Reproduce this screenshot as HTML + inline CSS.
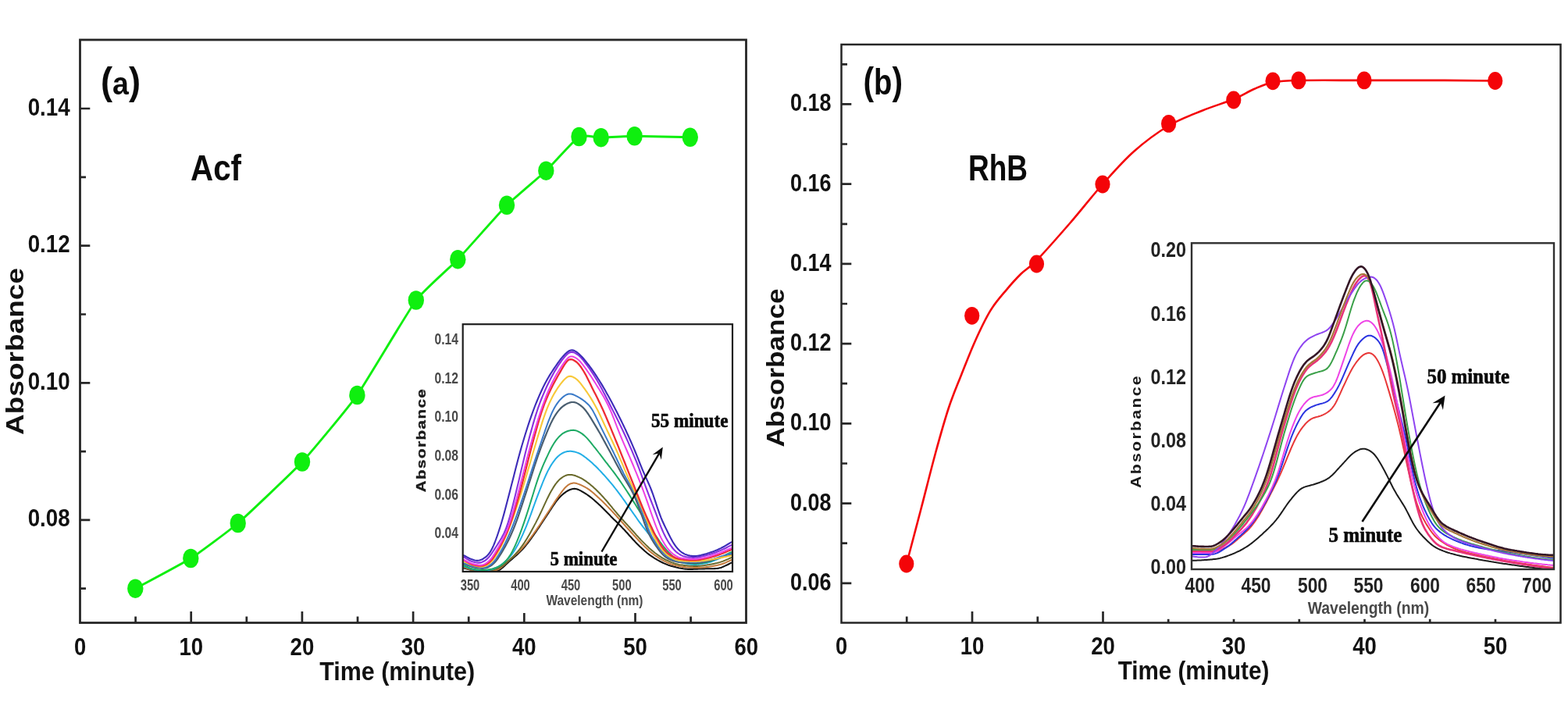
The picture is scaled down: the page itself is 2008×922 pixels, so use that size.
<!DOCTYPE html>
<html lang="en">
<head>
<meta charset="utf-8">
<title>Absorbance vs time: Acf and RhB</title>
<style>
html,body{margin:0;padding:0;background:#fff;}
body{width:2008px;height:922px;overflow:hidden;}
svg{display:block;}
</style>
</head>
<body>
<svg width="2008" height="922" viewBox="0 0 2008 922">
<rect width="2008" height="922" fill="#ffffff"/>
<g>
<rect x="102.5" y="51" width="853" height="746.5" fill="none" stroke="#262626" stroke-width="2.8"/>
<path d="M244.7 797.5 v-14.5 M386.9 797.5 v-14.5 M529.1 797.5 v-14.5 M671.3 797.5 v-14.5 M813.5 797.5 v-14.5 M173.6 797.5 v-8 M315.8 797.5 v-8 M458 797.5 v-8 M600.2 797.5 v-8 M742.4 797.5 v-8 M884.6 797.5 v-8 M102.5 139 h12.8 M102.5 314.6 h12.8 M102.5 490.3 h12.8 M102.5 665.9 h12.8 M102.5 226.8 h7.5 M102.5 402.5 h7.5 M102.5 578.1 h7.5 M102.5 753.7 h7.5 " stroke="#262626" stroke-width="2.7" fill="none"/>
<rect x="1077.5" y="57" width="921" height="740.5" fill="none" stroke="#262626" stroke-width="2.5"/>
<path d="M1245 797.5 v-14.5 M1412.5 797.5 v-14.5 M1580 797.5 v-14.5 M1747.5 797.5 v-14.5 M1915 797.5 v-14.5 M1161.2 797.5 v-8 M1328.8 797.5 v-8 M1496.2 797.5 v-8 M1663.8 797.5 v-8 M1831.2 797.5 v-8 M1077.5 133.4 h12.8 M1077.5 235.6 h12.8 M1077.5 337.9 h12.8 M1077.5 440.1 h12.8 M1077.5 542.4 h12.8 M1077.5 644.6 h12.8 M1077.5 746.8 h12.8 M1077.5 82.3 h7.5 M1077.5 184.5 h7.5 M1077.5 286.8 h7.5 M1077.5 389 h7.5 M1077.5 491.2 h7.5 M1077.5 593.5 h7.5 M1077.5 695.7 h7.5 " stroke="#262626" stroke-width="2.7" fill="none"/>
<text x="89.7" y="147.5" font-family="'Liberation Sans', Arial, sans-serif" font-size="30.5" font-weight="bold" text-anchor="end" fill="#111" textLength="54" lengthAdjust="spacingAndGlyphs">0.14</text>
<text x="89.7" y="323.1" font-family="'Liberation Sans', Arial, sans-serif" font-size="30.5" font-weight="bold" text-anchor="end" fill="#111" textLength="54" lengthAdjust="spacingAndGlyphs">0.12</text>
<text x="89.7" y="498.8" font-family="'Liberation Sans', Arial, sans-serif" font-size="30.5" font-weight="bold" text-anchor="end" fill="#111" textLength="54" lengthAdjust="spacingAndGlyphs">0.10</text>
<text x="89.7" y="674.4" font-family="'Liberation Sans', Arial, sans-serif" font-size="30.5" font-weight="bold" text-anchor="end" fill="#111" textLength="54" lengthAdjust="spacingAndGlyphs">0.08</text>
<text x="102.5" y="839.3" font-family="'Liberation Sans', Arial, sans-serif" font-size="30.5" font-weight="bold" text-anchor="middle" fill="#111" textLength="15.2" lengthAdjust="spacingAndGlyphs">0</text>
<text x="244.7" y="839.3" font-family="'Liberation Sans', Arial, sans-serif" font-size="30.5" font-weight="bold" text-anchor="middle" fill="#111" textLength="30.6" lengthAdjust="spacingAndGlyphs">10</text>
<text x="386.9" y="839.3" font-family="'Liberation Sans', Arial, sans-serif" font-size="30.5" font-weight="bold" text-anchor="middle" fill="#111" textLength="30.6" lengthAdjust="spacingAndGlyphs">20</text>
<text x="529.1" y="839.3" font-family="'Liberation Sans', Arial, sans-serif" font-size="30.5" font-weight="bold" text-anchor="middle" fill="#111" textLength="30.6" lengthAdjust="spacingAndGlyphs">30</text>
<text x="671.3" y="839.3" font-family="'Liberation Sans', Arial, sans-serif" font-size="30.5" font-weight="bold" text-anchor="middle" fill="#111" textLength="30.6" lengthAdjust="spacingAndGlyphs">40</text>
<text x="813.5" y="839.3" font-family="'Liberation Sans', Arial, sans-serif" font-size="30.5" font-weight="bold" text-anchor="middle" fill="#111" textLength="30.6" lengthAdjust="spacingAndGlyphs">50</text>
<text x="955.7" y="839.3" font-family="'Liberation Sans', Arial, sans-serif" font-size="30.5" font-weight="bold" text-anchor="middle" fill="#111" textLength="30.6" lengthAdjust="spacingAndGlyphs">60</text>
<text x="1064.4" y="142.4" font-family="'Liberation Sans', Arial, sans-serif" font-size="30.5" font-weight="bold" text-anchor="end" fill="#111" textLength="52.5" lengthAdjust="spacingAndGlyphs">0.18</text>
<text x="1064.4" y="244.6" font-family="'Liberation Sans', Arial, sans-serif" font-size="30.5" font-weight="bold" text-anchor="end" fill="#111" textLength="52.5" lengthAdjust="spacingAndGlyphs">0.16</text>
<text x="1064.4" y="346.9" font-family="'Liberation Sans', Arial, sans-serif" font-size="30.5" font-weight="bold" text-anchor="end" fill="#111" textLength="52.5" lengthAdjust="spacingAndGlyphs">0.14</text>
<text x="1064.4" y="449.1" font-family="'Liberation Sans', Arial, sans-serif" font-size="30.5" font-weight="bold" text-anchor="end" fill="#111" textLength="52.5" lengthAdjust="spacingAndGlyphs">0.12</text>
<text x="1064.4" y="551.4" font-family="'Liberation Sans', Arial, sans-serif" font-size="30.5" font-weight="bold" text-anchor="end" fill="#111" textLength="52.5" lengthAdjust="spacingAndGlyphs">0.10</text>
<text x="1064.4" y="653.6" font-family="'Liberation Sans', Arial, sans-serif" font-size="30.5" font-weight="bold" text-anchor="end" fill="#111" textLength="52.5" lengthAdjust="spacingAndGlyphs">0.08</text>
<text x="1064.4" y="755.8" font-family="'Liberation Sans', Arial, sans-serif" font-size="30.5" font-weight="bold" text-anchor="end" fill="#111" textLength="52.5" lengthAdjust="spacingAndGlyphs">0.06</text>
<text x="1077.5" y="837.6" font-family="'Liberation Sans', Arial, sans-serif" font-size="30.5" font-weight="bold" text-anchor="middle" fill="#111" textLength="15.2" lengthAdjust="spacingAndGlyphs">0</text>
<text x="1245" y="837.6" font-family="'Liberation Sans', Arial, sans-serif" font-size="30.5" font-weight="bold" text-anchor="middle" fill="#111" textLength="30.6" lengthAdjust="spacingAndGlyphs">10</text>
<text x="1412.5" y="837.6" font-family="'Liberation Sans', Arial, sans-serif" font-size="30.5" font-weight="bold" text-anchor="middle" fill="#111" textLength="30.6" lengthAdjust="spacingAndGlyphs">20</text>
<text x="1580" y="837.6" font-family="'Liberation Sans', Arial, sans-serif" font-size="30.5" font-weight="bold" text-anchor="middle" fill="#111" textLength="30.6" lengthAdjust="spacingAndGlyphs">30</text>
<text x="1747.5" y="837.6" font-family="'Liberation Sans', Arial, sans-serif" font-size="30.5" font-weight="bold" text-anchor="middle" fill="#111" textLength="30.6" lengthAdjust="spacingAndGlyphs">40</text>
<text x="1915" y="837.6" font-family="'Liberation Sans', Arial, sans-serif" font-size="30.5" font-weight="bold" text-anchor="middle" fill="#111" textLength="30.6" lengthAdjust="spacingAndGlyphs">50</text>
<text x="508.7" y="870.7" font-family="'Liberation Sans', Arial, sans-serif" font-size="32.5" font-weight="bold" text-anchor="middle" fill="#111" textLength="199" lengthAdjust="spacingAndGlyphs">Time (minute)</text>
<text x="1528.5" y="870.2" font-family="'Liberation Sans', Arial, sans-serif" font-size="32.5" font-weight="bold" text-anchor="middle" fill="#111" textLength="193.5" lengthAdjust="spacingAndGlyphs">Time (minute)</text>
<text x="0" y="0" font-family="'Liberation Sans', Arial, sans-serif" font-size="31" font-weight="bold" text-anchor="middle" fill="#111" textLength="214" lengthAdjust="spacingAndGlyphs" transform="translate(29.8 450) rotate(-90)">Absorbance</text>
<text x="0" y="0" font-family="'Liberation Sans', Arial, sans-serif" font-size="31" font-weight="bold" text-anchor="middle" fill="#111" textLength="203" lengthAdjust="spacingAndGlyphs" transform="translate(1003.5 471) rotate(-90)">Absorbance</text>
<text x="129" y="120.5" font-family="'Liberation Sans', Arial, sans-serif" font-weight="bold" fill="#0a0a0a" textLength="51" lengthAdjust="spacingAndGlyphs"><tspan font-size="50">(</tspan><tspan font-size="41.5">a</tspan><tspan font-size="50">)</tspan></text>
<text x="1105.5" y="120.8" font-family="'Liberation Sans', Arial, sans-serif" font-weight="bold" fill="#0a0a0a" textLength="50.5" lengthAdjust="spacingAndGlyphs"><tspan font-size="50">(</tspan><tspan font-size="47">b</tspan><tspan font-size="50">)</tspan></text>
<text x="244" y="231.2" font-family="'Liberation Sans', Arial, sans-serif" font-size="47" font-weight="bold" text-anchor="start" fill="#0a0a0a" textLength="65" lengthAdjust="spacingAndGlyphs">Acf</text>
<text x="1240" y="231.2" font-family="'Liberation Sans', Arial, sans-serif" font-size="47" font-weight="bold" text-anchor="start" fill="#0a0a0a" textLength="76" lengthAdjust="spacingAndGlyphs">RhB</text>
<path d="M173.3 753.7 C178.5 750.9 234.7 721.1 244.3 715 C253.9 708.9 294.2 679.1 304.7 670 C315.2 660.9 375.8 603.5 387 591.5 C398.2 579.5 446.7 521.2 457.4 506 C468.1 490.8 523.3 397.2 532.8 384.5 C542.3 371.8 577.8 341.1 586.3 332.2 C594.8 323.3 640.7 271.1 649 262.8 C657.3 254.5 692.5 225.1 699.3 218.7 C706.1 212.3 736.3 178.1 741.5 175 C746.7 171.9 764.5 176.3 769.7 176.2 C774.9 176.1 804.2 174.3 812.6 174.3 C821 174.3 878.6 175.7 883.8 175.8" fill="none" stroke="#0fef0f" stroke-width="2.9" stroke-linejoin="round"/>
<ellipse cx="173.3" cy="753.7" rx="10.2" ry="12.2" fill="#0fef0f"/>
<ellipse cx="244.3" cy="715" rx="10.2" ry="12.2" fill="#0fef0f"/>
<ellipse cx="304.7" cy="670" rx="10.2" ry="12.2" fill="#0fef0f"/>
<ellipse cx="387" cy="591.5" rx="10.2" ry="12.2" fill="#0fef0f"/>
<ellipse cx="457.4" cy="506" rx="10.2" ry="12.2" fill="#0fef0f"/>
<ellipse cx="532.8" cy="384.5" rx="10.2" ry="12.2" fill="#0fef0f"/>
<ellipse cx="586.3" cy="332.2" rx="10.2" ry="12.2" fill="#0fef0f"/>
<ellipse cx="649" cy="262.8" rx="10.2" ry="12.2" fill="#0fef0f"/>
<ellipse cx="699.3" cy="218.7" rx="10.2" ry="12.2" fill="#0fef0f"/>
<ellipse cx="741.5" cy="175" rx="10.2" ry="12.2" fill="#0fef0f"/>
<ellipse cx="769.7" cy="176.2" rx="10.2" ry="12.2" fill="#0fef0f"/>
<ellipse cx="812.6" cy="174.3" rx="10.2" ry="12.2" fill="#0fef0f"/>
<ellipse cx="883.8" cy="175.8" rx="10.2" ry="12.2" fill="#0fef0f"/>
<path d="M1161.5 720 C1164.4 708.9 1172.8 677.2 1179 653.5 C1185.2 629.8 1192.6 599.9 1198.6 578 C1204.6 556.1 1209.6 538.4 1215 522 C1220.4 505.6 1225.6 493.9 1231.2 479.7 C1236.9 465.5 1242.6 450.4 1248.8 436.7 C1255 423 1261.9 408.4 1268.4 397.7 C1274.9 387 1281.4 380.1 1287.9 372.3 C1294.4 364.5 1300.8 357.3 1307.4 350.8 C1314 344.3 1317.1 344.3 1327.5 333.5 C1337.9 322.7 1355.9 302.2 1370 286 C1384.1 269.8 1398.3 251.3 1412 236 C1425.7 220.7 1437.9 206.5 1452 194 C1466.1 181.5 1481.9 169.8 1496.6 161 C1511.3 152.2 1526.1 147.2 1540 141.5 C1553.9 135.8 1568.8 131.6 1579.8 127 C1590.8 122.4 1597.6 117.6 1606 114 C1614.4 110.4 1620.5 107.3 1630 105.5 C1639.5 103.7 1643.5 103.4 1663 103 C1682.5 102.6 1715.8 102.9 1747 102.9 C1778.2 102.9 1822 102.8 1850 102.9 C1878 103 1903.9 103.4 1914.7 103.5" fill="none" stroke="#f40408" stroke-width="2.6" stroke-linejoin="round"/>
<ellipse cx="1160.8" cy="722" rx="9.6" ry="11.4" fill="#f40408"/>
<ellipse cx="1244.7" cy="404.3" rx="9.6" ry="11.4" fill="#f40408"/>
<ellipse cx="1327.5" cy="338" rx="9.6" ry="11.4" fill="#f40408"/>
<ellipse cx="1412" cy="236" rx="9.6" ry="11.4" fill="#f40408"/>
<ellipse cx="1496.6" cy="158.4" rx="9.6" ry="11.4" fill="#f40408"/>
<ellipse cx="1579.8" cy="128" rx="9.6" ry="11.4" fill="#f40408"/>
<ellipse cx="1630" cy="103.8" rx="9.6" ry="11.4" fill="#f40408"/>
<ellipse cx="1663" cy="102.9" rx="9.6" ry="11.4" fill="#f40408"/>
<ellipse cx="1747" cy="102.9" rx="9.6" ry="11.4" fill="#f40408"/>
<ellipse cx="1914.7" cy="103.5" rx="9.6" ry="11.4" fill="#f40408"/>
<rect x="540" y="404" width="406" height="381" fill="#ffffff"/>
<clipPath id="ca"><rect x="592.7" y="415.2" width="345.3" height="316.8"/></clipPath>
<g clip-path="url(#ca)" fill="none" stroke-linejoin="round">
<path d="M593 727.4 L594.5 727.7 L596 728 L597.5 728.4 L599 728.8 L600.5 729.2 L602 729.6 L603.5 730 L605 730.3 L606.5 730.6 L608 730.9 L609.5 731.1 L611 731.3 L612.5 731.5 L614 731.7 L615.5 731.8 L617 731.9 L618.5 732.1 L620 732.2 L621.5 732.3 L623 732.3 L624.5 732.4 L626 732.4 L627.5 732.4 L629 732.4 L630.5 732.3 L632 732.1 L633.5 731.9 L635 731.6 L636.5 731.2 L638 730.6 L639.5 729.9 L641 729 L642.5 727.8 L644 726.6 L645.5 725.2 L647 723.8 L648.5 722.3 L650 720.9 L651.5 719.5 L653 718.2 L654.5 716.9 L656 715.6 L657.5 714.3 L659 713 L660.5 711.7 L662 710.4 L663.5 709 L665 707.6 L666.5 706.1 L668 704.6 L669.5 703 L671 701.3 L672.5 699.5 L674 697.7 L675.5 695.8 L677 693.8 L678.5 691.8 L680 689.8 L681.5 687.7 L683 685.6 L684.5 683.5 L686 681.4 L687.5 679.2 L689 677 L690.5 674.8 L692 672.5 L693.5 670.2 L695 667.9 L696.5 665.7 L698 663.4 L699.5 661.1 L701 658.9 L702.5 656.6 L704 654.3 L705.5 652.1 L707 649.8 L708.5 647.5 L710 645.3 L711.5 643.2 L713 641.2 L714.5 639.3 L716 637.5 L717.5 636 L719 634.5 L720.5 633.2 L722 631.9 L723.5 630.8 L725 629.7 L726.5 628.8 L728 628 L729.5 627.3 L731 626.7 L732.5 626.3 L734 626 L735.5 625.9 L737 626 L738.5 626.3 L740 626.8 L741.5 627.4 L743 628.1 L744.5 628.9 L746 629.8 L747.5 630.7 L749 631.6 L750.5 632.5 L752 633.5 L753.5 634.6 L755 635.7 L756.5 636.8 L758 638 L759.5 639.3 L761 640.5 L762.5 641.9 L764 643.2 L765.5 644.5 L767 645.9 L768.5 647.3 L770 648.7 L771.5 650.2 L773 651.7 L774.5 653.2 L776 654.7 L777.5 656.3 L779 657.8 L780.5 659.3 L782 660.9 L783.5 662.4 L785 663.9 L786.5 665.4 L788 666.8 L789.5 668.3 L791 669.8 L792.5 671.3 L794 672.8 L795.5 674.3 L797 675.9 L798.5 677.4 L800 679 L801.5 680.7 L803 682.3 L804.5 684 L806 685.7 L807.5 687.3 L809 689 L810.5 690.7 L812 692.3 L813.5 693.9 L815 695.4 L816.5 696.9 L818 698.4 L819.5 699.9 L821 701.3 L822.5 702.7 L824 704.1 L825.5 705.5 L827 706.7 L828.5 708 L830 709.2 L831.5 710.3 L833 711.4 L834.5 712.4 L836 713.4 L837.5 714.4 L839 715.3 L840.5 716.2 L842 717.1 L843.5 717.9 L845 718.7 L846.5 719.5 L848 720.2 L849.5 721 L851 721.6 L852.5 722.3 L854 722.9 L855.5 723.5 L857 724 L858.5 724.5 L860 724.9 L861.5 725.3 L863 725.7 L864.5 726.1 L866 726.5 L867.5 726.8 L869 727.2 L870.5 727.5 L872 727.8 L873.5 728 L875 728.3 L876.5 728.5 L878 728.6 L879.5 728.8 L881 728.9 L882.5 728.9 L884 728.9 L885.5 728.9 L887 728.9 L888.5 728.8 L890 728.7 L891.5 728.7 L893 728.6 L894.5 728.5 L896 728.5 L897.5 728.5 L899 728.4 L900.5 728.4 L902 728.4 L903.5 728.3 L905 728.3 L906.5 728.3 L908 728.3 L909.5 728.3 L911 728.2 L912.5 728.2 L914 728.2 L915.5 728.1 L917 728 L918.5 727.9 L920 727.7 L921.5 727.3 L923 726.9 L924.5 726.4 L926 725.8 L927.5 725.1 L929 724.4 L930.5 723.7 L932 723 L933.5 722.2 L935 721.4 L936.5 720.8 L938 720.2" stroke="#141414" stroke-width="2.1"/>
<path d="M593 726.5 L594.5 726.9 L596 727.3 L597.5 727.8 L599 728.4 L600.5 728.9 L602 729.3 L603.5 729.8 L605 730.1 L606.5 730.4 L608 730.7 L609.5 730.9 L611 731 L612.5 731.1 L614 731.2 L615.5 731.2 L617 731.3 L618.5 731.3 L620 731.4 L621.5 731.4 L623 731.4 L624.5 731.5 L626 731.4 L627.5 731.4 L629 731.3 L630.5 731.1 L632 730.9 L633.5 730.6 L635 730.2 L636.5 729.6 L638 729 L639.5 728.2 L641 727.2 L642.5 726.1 L644 724.8 L645.5 723.5 L647 722.1 L648.5 720.7 L650 719.3 L651.5 717.9 L653 716.6 L654.5 715.3 L656 714 L657.5 712.7 L659 711.4 L660.5 710.1 L662 708.8 L663.5 707.4 L665 706 L666.5 704.5 L668 703 L669.5 701.4 L671 699.7 L672.5 697.9 L674 696.1 L675.5 694.2 L677 692.2 L678.5 690.2 L680 688.2 L681.5 686.1 L683 684 L684.5 681.9 L686 679.8 L687.5 677.6 L689 675.4 L690.5 673.2 L692 671 L693.5 668.7 L695 666.4 L696.5 664.2 L698 661.9 L699.5 659.6 L701 657.3 L702.5 655 L704 652.7 L705.5 650.4 L707 648 L708.5 645.7 L710 643.4 L711.5 641.1 L713 638.9 L714.5 636.7 L716 634.6 L717.5 632.5 L719 630.4 L720.5 628.4 L722 626.5 L723.5 624.7 L725 623.2 L726.5 621.9 L728 620.8 L729.5 619.9 L731 619.3 L732.5 618.9 L734 618.6 L735.5 618.6 L737 618.8 L738.5 619.1 L740 619.6 L741.5 620.1 L743 620.7 L744.5 621.4 L746 622.1 L747.5 622.9 L749 623.6 L750.5 624.5 L752 625.4 L753.5 626.4 L755 627.4 L756.5 628.6 L758 629.8 L759.5 631 L761 632.3 L762.5 633.7 L764 635 L765.5 636.4 L767 637.8 L768.5 639.2 L770 640.6 L771.5 642 L773 643.5 L774.5 645 L776 646.5 L777.5 648.1 L779 649.6 L780.5 651.2 L782 652.8 L783.5 654.4 L785 656 L786.5 657.6 L788 659.2 L789.5 660.9 L791 662.5 L792.5 664.2 L794 665.9 L795.5 667.5 L797 669.2 L798.5 670.8 L800 672.5 L801.5 674.2 L803 675.8 L804.5 677.5 L806 679.2 L807.5 680.8 L809 682.5 L810.5 684.1 L812 685.8 L813.5 687.4 L815 689 L816.5 690.6 L818 692.2 L819.5 693.7 L821 695.3 L822.5 696.9 L824 698.4 L825.5 699.9 L827 701.3 L828.5 702.7 L830 704.1 L831.5 705.4 L833 706.7 L834.5 707.9 L836 709 L837.5 710.2 L839 711.3 L840.5 712.3 L842 713.4 L843.5 714.3 L845 715.3 L846.5 716.2 L848 717 L849.5 717.9 L851 718.7 L852.5 719.4 L854 720.2 L855.5 720.8 L857 721.4 L858.5 722 L860 722.5 L861.5 723 L863 723.4 L864.5 723.8 L866 724.2 L867.5 724.5 L869 724.8 L870.5 725.2 L872 725.4 L873.5 725.7 L875 725.9 L876.5 726.1 L878 726.3 L879.5 726.4 L881 726.5 L882.5 726.6 L884 726.7 L885.5 726.8 L887 726.8 L888.5 726.9 L890 726.9 L891.5 727 L893 727 L894.5 726.9 L896 726.9 L897.5 726.8 L899 726.7 L900.5 726.6 L902 726.4 L903.5 726.3 L905 726.1 L906.5 725.9 L908 725.7 L909.5 725.5 L911 725.3 L912.5 725.1 L914 724.8 L915.5 724.5 L917 724.2 L918.5 723.9 L920 723.5 L921.5 723.1 L923 722.7 L924.5 722.3 L926 721.7 L927.5 721.2 L929 720.6 L930.5 719.9 L932 719.2 L933.5 718.5 L935 717.8 L936.5 717.2 L938 716.7" stroke="#c47a3c" stroke-width="2.0"/>
<path d="M593 725.6 L594.5 726 L596 726.5 L597.5 727.1 L599 727.8 L600.5 728.3 L602 728.9 L603.5 729.3 L605 729.7 L606.5 730 L608 730.3 L609.5 730.4 L611 730.6 L612.5 730.7 L614 730.7 L615.5 730.8 L617 730.9 L618.5 730.9 L620 730.9 L621.5 730.9 L623 730.9 L624.5 730.9 L626 730.7 L627.5 730.5 L629 730.3 L630.5 729.9 L632 729.6 L633.5 729.1 L635 728.6 L636.5 728.1 L638 727.4 L639.5 726.7 L641 725.8 L642.5 724.9 L644 723.9 L645.5 722.8 L647 721.6 L648.5 720.4 L650 719.1 L651.5 717.8 L653 716.5 L654.5 715.1 L656 713.7 L657.5 712.2 L659 710.6 L660.5 709 L662 707.3 L663.5 705.6 L665 703.8 L666.5 701.9 L668 699.9 L669.5 697.8 L671 695.7 L672.5 693.4 L674 691 L675.5 688.6 L677 686 L678.5 683.4 L680 680.7 L681.5 678 L683 675.2 L684.5 672.4 L686 669.6 L687.5 666.6 L689 663.7 L690.5 660.6 L692 657.5 L693.5 654.3 L695 651.1 L696.5 647.8 L698 644.6 L699.5 641.4 L701 638.2 L702.5 635.2 L704 632.3 L705.5 629.5 L707 626.9 L708.5 624.4 L710 622.1 L711.5 619.9 L713 618 L714.5 616.2 L716 614.6 L717.5 613.3 L719 612.1 L720.5 611 L722 610.1 L723.5 609.4 L725 608.7 L726.5 608.3 L728 608 L729.5 607.9 L731 607.9 L732.5 608.1 L734 608.4 L735.5 608.8 L737 609.3 L738.5 609.9 L740 610.5 L741.5 611.1 L743 611.8 L744.5 612.5 L746 613.4 L747.5 614.3 L749 615.3 L750.5 616.4 L752 617.5 L753.5 618.6 L755 619.8 L756.5 621.1 L758 622.3 L759.5 623.6 L761 624.9 L762.5 626.3 L764 627.7 L765.5 629.2 L767 630.7 L768.5 632.3 L770 633.9 L771.5 635.5 L773 637.1 L774.5 638.8 L776 640.5 L777.5 642.2 L779 644 L780.5 645.8 L782 647.6 L783.5 649.4 L785 651.3 L786.5 653.1 L788 654.9 L789.5 656.7 L791 658.5 L792.5 660.2 L794 661.9 L795.5 663.5 L797 665.2 L798.5 666.8 L800 668.5 L801.5 670.1 L803 671.7 L804.5 673.4 L806 675 L807.5 676.7 L809 678.3 L810.5 680 L812 681.7 L813.5 683.4 L815 685.1 L816.5 686.7 L818 688.4 L819.5 690 L821 691.6 L822.5 693.1 L824 694.6 L825.5 696.1 L827 697.6 L828.5 699.1 L830 700.5 L831.5 701.9 L833 703.2 L834.5 704.6 L836 705.8 L837.5 707 L839 708.2 L840.5 709.3 L842 710.4 L843.5 711.4 L845 712.4 L846.5 713.4 L848 714.3 L849.5 715.2 L851 716 L852.5 716.8 L854 717.5 L855.5 718.2 L857 718.9 L858.5 719.5 L860 720.1 L861.5 720.6 L863 721.2 L864.5 721.7 L866 722.1 L867.5 722.5 L869 722.9 L870.5 723.2 L872 723.4 L873.5 723.6 L875 723.8 L876.5 724 L878 724.2 L879.5 724.3 L881 724.4 L882.5 724.6 L884 724.7 L885.5 724.8 L887 724.8 L888.5 724.9 L890 724.9 L891.5 724.9 L893 724.9 L894.5 724.8 L896 724.7 L897.5 724.6 L899 724.4 L900.5 724.2 L902 724 L903.5 723.7 L905 723.5 L906.5 723.2 L908 723 L909.5 722.7 L911 722.5 L912.5 722.2 L914 721.9 L915.5 721.6 L917 721.2 L918.5 720.9 L920 720.5 L921.5 720.1 L923 719.6 L924.5 719.1 L926 718.6 L927.5 718 L929 717.4 L930.5 716.7 L932 716.1 L933.5 715.4 L935 714.7 L936.5 714.1 L938 713.6" stroke="#6a6a2c" stroke-width="2.0"/>
<path d="M593 724.6 L594.5 725 L596 725.6 L597.5 726.2 L599 726.8 L600.5 727.4 L602 727.9 L603.5 728.4 L605 728.8 L606.5 729.1 L608 729.4 L609.5 729.6 L611 729.8 L612.5 730 L614 730.1 L615.5 730.2 L617 730.3 L618.5 730.4 L620 730.4 L621.5 730.4 L623 730.3 L624.5 730.2 L626 729.9 L627.5 729.6 L629 729.2 L630.5 728.8 L632 728.3 L633.5 727.7 L635 727.1 L636.5 726.4 L638 725.7 L639.5 724.9 L641 723.9 L642.5 722.8 L644 721.7 L645.5 720.4 L647 719.1 L648.5 717.6 L650 716.1 L651.5 714.6 L653 712.9 L654.5 711.1 L656 709.1 L657.5 707 L659 704.7 L660.5 702.3 L662 699.6 L663.5 696.9 L665 693.9 L666.5 690.8 L668 687.6 L669.5 684.3 L671 680.9 L672.5 677.4 L674 673.8 L675.5 670 L677 666.2 L678.5 662.2 L680 658.1 L681.5 653.9 L683 649.7 L684.5 645.5 L686 641.4 L687.5 637.4 L689 633.4 L690.5 629.5 L692 625.6 L693.5 621.8 L695 618 L696.5 614.4 L698 610.8 L699.5 607.5 L701 604.3 L702.5 601.4 L704 598.7 L705.5 596.1 L707 593.8 L708.5 591.6 L710 589.6 L711.5 587.7 L713 586 L714.5 584.5 L716 583.2 L717.5 582 L719 581.1 L720.5 580.2 L722 579.5 L723.5 578.9 L725 578.4 L726.5 578.1 L728 577.9 L729.5 577.8 L731 577.8 L732.5 578 L734 578.2 L735.5 578.5 L737 578.9 L738.5 579.4 L740 579.9 L741.5 580.5 L743 581.2 L744.5 582.1 L746 583 L747.5 584.1 L749 585.2 L750.5 586.3 L752 587.6 L753.5 588.8 L755 590 L756.5 591.3 L758 592.6 L759.5 594 L761 595.4 L762.5 596.8 L764 598.3 L765.5 599.8 L767 601.4 L768.5 602.9 L770 604.5 L771.5 606.2 L773 607.8 L774.5 609.4 L776 611.1 L777.5 612.8 L779 614.5 L780.5 616.3 L782 618.1 L783.5 619.9 L785 621.7 L786.5 623.6 L788 625.5 L789.5 627.4 L791 629.3 L792.5 631.3 L794 633.3 L795.5 635.4 L797 637.5 L798.5 639.6 L800 641.7 L801.5 643.8 L803 646 L804.5 648.1 L806 650.2 L807.5 652.4 L809 654.5 L810.5 656.6 L812 658.8 L813.5 660.9 L815 663 L816.5 665.2 L818 667.3 L819.5 669.3 L821 671.3 L822.5 673.3 L824 675.3 L825.5 677.2 L827 679.1 L828.5 681 L830 682.8 L831.5 684.6 L833 686.4 L834.5 688.2 L836 689.9 L837.5 691.6 L839 693.3 L840.5 694.9 L842 696.6 L843.5 698.2 L845 699.8 L846.5 701.4 L848 702.9 L849.5 704.4 L851 705.9 L852.5 707.3 L854 708.6 L855.5 709.9 L857 711.1 L858.5 712.3 L860 713.5 L861.5 714.6 L863 715.7 L864.5 716.6 L866 717.5 L867.5 718.3 L869 718.9 L870.5 719.5 L872 720 L873.5 720.4 L875 720.8 L876.5 721.2 L878 721.5 L879.5 721.8 L881 722.1 L882.5 722.3 L884 722.5 L885.5 722.7 L887 722.8 L888.5 722.9 L890 722.9 L891.5 722.9 L893 722.8 L894.5 722.7 L896 722.5 L897.5 722.3 L899 722.1 L900.5 721.8 L902 721.5 L903.5 721.2 L905 720.9 L906.5 720.6 L908 720.1 L909.5 719.7 L911 719.2 L912.5 718.6 L914 718 L915.5 717.4 L917 716.8 L918.5 716.2 L920 715.6 L921.5 714.9 L923 714.3 L924.5 713.6 L926 713 L927.5 712.3 L929 711.6 L930.5 710.8 L932 710.1 L933.5 709.4 L935 708.7 L936.5 708.1 L938 707.6" stroke="#22aee6" stroke-width="2.0"/>
<path d="M593 723.7 L594.5 724.2 L596 724.8 L597.5 725.5 L599 726.2 L600.5 726.9 L602 727.5 L603.5 728 L605 728.4 L606.5 728.8 L608 729 L609.5 729.3 L611 729.4 L612.5 729.6 L614 729.7 L615.5 729.8 L617 729.9 L618.5 729.9 L620 729.9 L621.5 729.8 L623 729.7 L624.5 729.6 L626 729.3 L627.5 729.1 L629 728.7 L630.5 728.4 L632 728 L633.5 727.5 L635 727 L636.5 726.4 L638 725.7 L639.5 724.9 L641 724 L642.5 723 L644 721.8 L645.5 720.4 L647 719 L648.5 717.4 L650 715.6 L651.5 713.6 L653 711.4 L654.5 708.9 L656 706.2 L657.5 703.3 L659 700.1 L660.5 696.8 L662 693.3 L663.5 689.6 L665 685.8 L666.5 681.8 L668 677.8 L669.5 673.6 L671 669.3 L672.5 664.9 L674 660.4 L675.5 655.8 L677 651.1 L678.5 646.3 L680 641.4 L681.5 636.5 L683 631.7 L684.5 626.8 L686 622 L687.5 617.4 L689 612.9 L690.5 608.7 L692 604.6 L693.5 600.8 L695 597.2 L696.5 593.7 L698 590.3 L699.5 587 L701 583.8 L702.5 580.6 L704 577.5 L705.5 574.5 L707 571.8 L708.5 569.2 L710 566.8 L711.5 564.7 L713 562.7 L714.5 560.9 L716 559.2 L717.5 557.7 L719 556.4 L720.5 555.2 L722 554.3 L723.5 553.5 L725 552.8 L726.5 552.3 L728 551.8 L729.5 551.4 L731 551.1 L732.5 550.9 L734 550.8 L735.5 550.9 L737 551.2 L738.5 551.6 L740 552.3 L741.5 553 L743 553.9 L744.5 554.8 L746 555.9 L747.5 557.1 L749 558.4 L750.5 559.9 L752 561.4 L753.5 563.1 L755 564.9 L756.5 566.7 L758 568.6 L759.5 570.5 L761 572.4 L762.5 574.2 L764 576.1 L765.5 578 L767 580 L768.5 581.9 L770 583.9 L771.5 585.9 L773 587.9 L774.5 589.8 L776 591.8 L777.5 593.7 L779 595.7 L780.5 597.6 L782 599.5 L783.5 601.5 L785 603.4 L786.5 605.4 L788 607.4 L789.5 609.5 L791 611.6 L792.5 613.7 L794 615.8 L795.5 618 L797 620.2 L798.5 622.5 L800 624.7 L801.5 627 L803 629.3 L804.5 631.6 L806 633.9 L807.5 636.3 L809 638.6 L810.5 641 L812 643.4 L813.5 645.8 L815 648.2 L816.5 650.6 L818 653 L819.5 655.4 L821 657.8 L822.5 660.2 L824 662.5 L825.5 664.8 L827 667.1 L828.5 669.4 L830 671.7 L831.5 674 L833 676.2 L834.5 678.5 L836 680.7 L837.5 682.8 L839 685 L840.5 687.1 L842 689.2 L843.5 691.4 L845 693.5 L846.5 695.5 L848 697.6 L849.5 699.5 L851 701.4 L852.5 703.2 L854 704.9 L855.5 706.5 L857 708.1 L858.5 709.5 L860 710.9 L861.5 712.3 L863 713.5 L864.5 714.7 L866 715.7 L867.5 716.6 L869 717.3 L870.5 718 L872 718.6 L873.5 719 L875 719.5 L876.5 719.9 L878 720.3 L879.5 720.6 L881 721 L882.5 721.2 L884 721.5 L885.5 721.6 L887 721.8 L888.5 721.9 L890 721.9 L891.5 721.9 L893 721.8 L894.5 721.7 L896 721.5 L897.5 721.3 L899 721.1 L900.5 720.8 L902 720.5 L903.5 720.2 L905 719.9 L906.5 719.6 L908 719.1 L909.5 718.7 L911 718.2 L912.5 717.6 L914 717 L915.5 716.4 L917 715.8 L918.5 715.2 L920 714.6 L921.5 713.9 L923 713.3 L924.5 712.6 L926 712 L927.5 711.3 L929 710.6 L930.5 709.8 L932 709.1 L933.5 708.4 L935 707.7 L936.5 707.1 L938 706.6" stroke="#1eaa64" stroke-width="2.0"/>
<path d="M593 721.6 L594.5 722.1 L596 722.6 L597.5 723.2 L599 723.9 L600.5 724.5 L602 725 L603.5 725.5 L605 725.9 L606.5 726.3 L608 726.6 L609.5 726.9 L611 727.1 L612.5 727.3 L614 727.5 L615.5 727.7 L617 727.8 L618.5 727.8 L620 727.7 L621.5 727.5 L623 727.1 L624.5 726.6 L626 725.9 L627.5 725.1 L629 724.1 L630.5 723 L632 721.7 L633.5 720.3 L635 718.6 L636.5 716.6 L638 714.5 L639.5 712.2 L641 709.9 L642.5 707.4 L644 704.9 L645.5 702.3 L647 699.6 L648.5 696.8 L650 693.9 L651.5 690.9 L653 687.8 L654.5 684.5 L656 681.1 L657.5 677.6 L659 673.9 L660.5 669.9 L662 665.9 L663.5 661.6 L665 657.2 L666.5 652.7 L668 648.2 L669.5 643.6 L671 639 L672.5 634.4 L674 629.8 L675.5 625.1 L677 620.5 L678.5 615.8 L680 611.1 L681.5 606.3 L683 601.6 L684.5 597 L686 592.4 L687.5 587.9 L689 583.5 L690.5 579.3 L692 575.2 L693.5 571.2 L695 567.2 L696.5 563.4 L698 559.5 L699.5 555.8 L701 552.1 L702.5 548.6 L704 545.2 L705.5 541.9 L707 538.9 L708.5 536.1 L710 533.5 L711.5 531.1 L713 528.9 L714.5 526.9 L716 525.1 L717.5 523.4 L719 521.9 L720.5 520.6 L722 519.5 L723.5 518.5 L725 517.6 L726.5 516.8 L728 516.2 L729.5 515.6 L731 515.2 L732.5 515 L734 515 L735.5 515.2 L737 515.5 L738.5 516.1 L740 516.9 L741.5 517.8 L743 518.9 L744.5 520 L746 521.3 L747.5 522.8 L749 524.5 L750.5 526.3 L752 528.4 L753.5 530.5 L755 532.8 L756.5 535.2 L758 537.6 L759.5 540.1 L761 542.6 L762.5 545.1 L764 547.6 L765.5 550.1 L767 552.7 L768.5 555.3 L770 557.9 L771.5 560.6 L773 563.4 L774.5 566.1 L776 568.9 L777.5 571.7 L779 574.5 L780.5 577.3 L782 580.1 L783.5 582.9 L785 585.7 L786.5 588.5 L788 591.4 L789.5 594.2 L791 597 L792.5 599.8 L794 602.6 L795.5 605.4 L797 608.1 L798.5 610.7 L800 613.3 L801.5 615.8 L803 618.2 L804.5 620.6 L806 623.1 L807.5 625.7 L809 628.4 L810.5 631.3 L812 634.5 L813.5 637.9 L815 641.5 L816.5 645.3 L818 649.3 L819.5 653.3 L821 657.5 L822.5 661.7 L824 666 L825.5 670.3 L827 674.3 L828.5 678 L830 681.5 L831.5 684.6 L833 687.5 L834.5 690.2 L836 692.7 L837.5 695.1 L839 697.4 L840.5 699.6 L842 701.7 L843.5 703.8 L845 705.7 L846.5 707.6 L848 709.3 L849.5 710.8 L851 712.2 L852.5 713.3 L854 714.3 L855.5 715.2 L857 716 L858.5 716.7 L860 717.3 L861.5 717.9 L863 718.4 L864.5 718.8 L866 719.2 L867.5 719.5 L869 719.8 L870.5 720 L872 720.1 L873.5 720.3 L875 720.4 L876.5 720.5 L878 720.6 L879.5 720.7 L881 720.8 L882.5 720.8 L884 720.9 L885.5 720.9 L887 720.9 L888.5 720.9 L890 720.9 L891.5 720.9 L893 720.8 L894.5 720.7 L896 720.5 L897.5 720.3 L899 720.1 L900.5 719.8 L902 719.5 L903.5 719.3 L905 719 L906.5 718.6 L908 718.3 L909.5 717.9 L911 717.5 L912.5 717 L914 716.6 L915.5 716.1 L917 715.6 L918.5 715.2 L920 714.7 L921.5 714.2 L923 713.8 L924.5 713.3 L926 712.9 L927.5 712.4 L929 711.9 L930.5 711.4 L932 711 L933.5 710.5 L935 710.1 L936.5 709.7 L938 709.4" stroke="#4a5e70" stroke-width="2.2"/>
<path d="M593 720.6 L594.5 721.1 L596 721.6 L597.5 722.2 L599 722.9 L600.5 723.5 L602 724 L603.5 724.5 L605 724.9 L606.5 725.3 L608 725.6 L609.5 725.9 L611 726.1 L612.5 726.3 L614 726.5 L615.5 726.7 L617 726.8 L618.5 726.8 L620 726.7 L621.5 726.4 L623 726 L624.5 725.3 L626 724.5 L627.5 723.6 L629 722.5 L630.5 721.2 L632 719.7 L633.5 717.9 L635 716 L636.5 713.8 L638 711.5 L639.5 709.1 L641 706.6 L642.5 703.9 L644 701.2 L645.5 698.3 L647 695.4 L648.5 692.3 L650 689 L651.5 685.7 L653 682.2 L654.5 678.7 L656 675 L657.5 671.2 L659 667.2 L660.5 663.2 L662 659 L663.5 654.7 L665 650.4 L666.5 646 L668 641.6 L669.5 637.2 L671 632.7 L672.5 628.2 L674 623.7 L675.5 619.2 L677 614.6 L678.5 609.9 L680 605.3 L681.5 600.6 L683 596 L684.5 591.4 L686 586.9 L687.5 582.4 L689 578 L690.5 573.6 L692 569.2 L693.5 564.8 L695 560.4 L696.5 556 L698 551.6 L699.5 547.3 L701 543.2 L702.5 539.1 L704 535.3 L705.5 531.6 L707 528.2 L708.5 525.1 L710 522.3 L711.5 519.7 L713 517.4 L714.5 515.3 L716 513.4 L717.5 511.7 L719 510.2 L720.5 508.8 L722 507.6 L723.5 506.5 L725 505.6 L726.5 505 L728 504.5 L729.5 504.4 L731 504.5 L732.5 504.8 L734 505.3 L735.5 505.9 L737 506.6 L738.5 507.3 L740 508.1 L741.5 509 L743 509.9 L744.5 510.9 L746 511.9 L747.5 513 L749 514.1 L750.5 515.4 L752 516.7 L753.5 518.2 L755 519.9 L756.5 521.9 L758 524.1 L759.5 526.6 L761 529.4 L762.5 532.3 L764 535.4 L765.5 538.5 L767 541.7 L768.5 544.8 L770 547.9 L771.5 550.9 L773 553.9 L774.5 556.9 L776 559.9 L777.5 562.9 L779 565.9 L780.5 568.9 L782 571.9 L783.5 575 L785 578 L786.5 581.1 L788 584.2 L789.5 587.3 L791 590.5 L792.5 593.7 L794 596.8 L795.5 600 L797 603 L798.5 606.1 L800 609 L801.5 611.8 L803 614.5 L804.5 617.1 L806 619.6 L807.5 622.1 L809 624.7 L810.5 627.4 L812 630.3 L813.5 633.4 L815 636.8 L816.5 640.3 L818 644.1 L819.5 648 L821 652 L822.5 656.1 L824 660.3 L825.5 664.6 L827 668.9 L828.5 673 L830 676.8 L831.5 680.4 L833 683.6 L834.5 686.6 L836 689.4 L837.5 692 L839 694.4 L840.5 696.7 L842 698.8 L843.5 700.9 L845 702.8 L846.5 704.7 L848 706.4 L849.5 708 L851 709.5 L852.5 710.9 L854 712 L855.5 713.1 L857 714 L858.5 714.9 L860 715.6 L861.5 716.4 L863 717 L864.5 717.5 L866 718 L867.5 718.4 L869 718.7 L870.5 718.9 L872 719.1 L873.5 719.3 L875 719.4 L876.5 719.5 L878 719.6 L879.5 719.7 L881 719.8 L882.5 719.8 L884 719.9 L885.5 719.9 L887 719.9 L888.5 719.9 L890 719.9 L891.5 719.9 L893 719.8 L894.5 719.7 L896 719.5 L897.5 719.3 L899 719.1 L900.5 718.8 L902 718.5 L903.5 718.3 L905 718 L906.5 717.6 L908 717.3 L909.5 716.9 L911 716.5 L912.5 716 L914 715.6 L915.5 715.1 L917 714.6 L918.5 714.2 L920 713.7 L921.5 713.2 L923 712.8 L924.5 712.3 L926 711.9 L927.5 711.4 L929 710.9 L930.5 710.4 L932 710 L933.5 709.5 L935 709.1 L936.5 708.7 L938 708.4" stroke="#3a7ac8" stroke-width="2.0"/>
<path d="M593 718.7 L594.5 719.2 L596 719.8 L597.5 720.5 L599 721.3 L600.5 721.9 L602 722.6 L603.5 723.1 L605 723.6 L606.5 724 L608 724.4 L609.5 724.8 L611 725.1 L612.5 725.4 L614 725.6 L615.5 725.7 L617 725.7 L618.5 725.6 L620 725.3 L621.5 724.8 L623 724.1 L624.5 723.2 L626 722.2 L627.5 721 L629 719.6 L630.5 718 L632 716.1 L633.5 714 L635 711.7 L636.5 709.2 L638 706.6 L639.5 703.9 L641 701.1 L642.5 698.1 L644 695 L645.5 691.8 L647 688.5 L648.5 685 L650 681.4 L651.5 677.7 L653 673.9 L654.5 669.9 L656 665.8 L657.5 661.6 L659 657.3 L660.5 652.9 L662 648.4 L663.5 643.8 L665 639.1 L666.5 634.4 L668 629.6 L669.5 624.7 L671 619.8 L672.5 614.7 L674 609.5 L675.5 604.3 L677 599.1 L678.5 593.9 L680 588.7 L681.5 583.5 L683 578.4 L684.5 573.4 L686 568.4 L687.5 563.3 L689 558.3 L690.5 553.4 L692 548.4 L693.5 543.6 L695 538.9 L696.5 534.4 L698 530.1 L699.5 526 L701 522.2 L702.5 518.6 L704 515.2 L705.5 512.1 L707 509.1 L708.5 506.3 L710 503.6 L711.5 501.1 L713 498.7 L714.5 496.4 L716 494.3 L717.5 492.2 L719 490.3 L720.5 488.5 L722 486.8 L723.5 485.3 L725 483.9 L726.5 482.8 L728 482.1 L729.5 481.8 L731 481.9 L732.5 482.2 L734 482.9 L735.5 483.7 L737 484.6 L738.5 485.8 L740 487.1 L741.5 488.7 L743 490.4 L744.5 492.3 L746 494.3 L747.5 496.3 L749 498.4 L750.5 500.6 L752 502.7 L753.5 505 L755 507.3 L756.5 509.6 L758 512.1 L759.5 514.6 L761 517.2 L762.5 519.9 L764 522.7 L765.5 525.6 L767 528.6 L768.5 531.8 L770 535 L771.5 538.2 L773 541.5 L774.5 544.7 L776 547.9 L777.5 551.1 L779 554.3 L780.5 557.5 L782 560.6 L783.5 563.8 L785 567 L786.5 570.2 L788 573.5 L789.5 576.8 L791 580.1 L792.5 583.6 L794 587.1 L795.5 590.6 L797 594.2 L798.5 597.7 L800 601.3 L801.5 604.8 L803 608.3 L804.5 611.7 L806 615 L807.5 618.2 L809 621.4 L810.5 624.6 L812 627.8 L813.5 631 L815 634.3 L816.5 637.7 L818 641.1 L819.5 644.6 L821 648.1 L822.5 651.7 L824 655.3 L825.5 658.9 L827 662.7 L828.5 666.4 L830 670.2 L831.5 673.8 L833 677.4 L834.5 680.8 L836 684 L837.5 687.1 L839 690.1 L840.5 692.9 L842 695.5 L843.5 697.9 L845 700.1 L846.5 702.1 L848 704 L849.5 705.8 L851 707.4 L852.5 708.9 L854 710.2 L855.5 711.4 L857 712.4 L858.5 713.4 L860 714.3 L861.5 715 L863 715.8 L864.5 716.4 L866 716.9 L867.5 717.3 L869 717.7 L870.5 717.9 L872 718.1 L873.5 718.3 L875 718.4 L876.5 718.5 L878 718.6 L879.5 718.7 L881 718.8 L882.5 718.8 L884 718.9 L885.5 718.9 L887 718.9 L888.5 719 L890 718.9 L891.5 718.9 L893 718.8 L894.5 718.7 L896 718.6 L897.5 718.5 L899 718.3 L900.5 718.1 L902 717.9 L903.5 717.7 L905 717.5 L906.5 717.3 L908 717 L909.5 716.8 L911 716.5 L912.5 716.2 L914 716 L915.5 715.7 L917 715.4 L918.5 715.1 L920 714.8 L921.5 714.5 L923 714.2 L924.5 713.9 L926 713.6 L927.5 713.3 L929 713 L930.5 712.7 L932 712.3 L933.5 712 L935 711.7 L936.5 711.5 L938 711.3" stroke="#f8c838" stroke-width="2.1"/>
<path d="M593 716.9 L594.5 717.5 L596 718.3 L597.5 719.2 L599 720.1 L600.5 720.9 L602 721.7 L603.5 722.3 L605 722.8 L606.5 723.3 L608 723.7 L609.5 724.1 L611 724.3 L612.5 724.6 L614 724.7 L615.5 724.7 L617 724.6 L618.5 724.3 L620 723.8 L621.5 723.2 L623 722.4 L624.5 721.5 L626 720.4 L627.5 719.1 L629 717.5 L630.5 715.7 L632 713.7 L633.5 711.4 L635 709 L636.5 706.5 L638 703.9 L639.5 701.3 L641 698.6 L642.5 695.8 L644 692.8 L645.5 689.8 L647 686.6 L648.5 683.2 L650 679.7 L651.5 675.9 L653 672 L654.5 667.7 L656 663.3 L657.5 658.6 L659 653.8 L660.5 648.8 L662 643.7 L663.5 638.5 L665 633.1 L666.5 627.7 L668 622.1 L669.5 616.4 L671 610.5 L672.5 604.6 L674 598.6 L675.5 592.6 L677 586.7 L678.5 580.9 L680 575.2 L681.5 569.5 L683 564 L684.5 558.4 L686 553 L687.5 547.6 L689 542.4 L690.5 537.3 L692 532.4 L693.5 527.7 L695 523.3 L696.5 519.2 L698 515.2 L699.5 511.5 L701 508 L702.5 504.6 L704 501.4 L705.5 498.2 L707 495.2 L708.5 492.3 L710 489.4 L711.5 486.7 L713 484 L714.5 481.3 L716 478.7 L717.5 476.1 L719 473.5 L720.5 470.9 L722 468.4 L723.5 466.1 L725 464 L726.5 462.2 L728 461 L729.5 460.3 L731 460.1 L732.5 460.3 L734 460.9 L735.5 461.7 L737 462.7 L738.5 463.8 L740 465.3 L741.5 466.9 L743 468.8 L744.5 470.8 L746 473.1 L747.5 475.5 L749 478.1 L750.5 480.8 L752 483.7 L753.5 486.7 L755 489.7 L756.5 492.8 L758 495.9 L759.5 498.9 L761 501.9 L762.5 504.8 L764 507.8 L765.5 510.8 L767 513.9 L768.5 517 L770 520.2 L771.5 523.4 L773 526.8 L774.5 530.2 L776 533.6 L777.5 537.2 L779 540.7 L780.5 544.3 L782 547.9 L783.5 551.6 L785 555.2 L786.5 558.9 L788 562.6 L789.5 566.2 L791 569.9 L792.5 573.6 L794 577.4 L795.5 581.1 L797 584.9 L798.5 588.6 L800 592.3 L801.5 596.1 L803 599.9 L804.5 603.6 L806 607.4 L807.5 611.1 L809 614.9 L810.5 618.7 L812 622.5 L813.5 626.3 L815 630.1 L816.5 633.9 L818 637.7 L819.5 641.5 L821 645.2 L822.5 648.9 L824 652.5 L825.5 656 L827 659.4 L828.5 662.8 L830 666.1 L831.5 669.3 L833 672.5 L834.5 675.6 L836 678.8 L837.5 681.9 L839 684.9 L840.5 687.9 L842 690.8 L843.5 693.5 L845 696 L846.5 698.3 L848 700.4 L849.5 702.4 L851 704.2 L852.5 705.8 L854 707.3 L855.5 708.6 L857 709.8 L858.5 710.8 L860 711.8 L861.5 712.6 L863 713.4 L864.5 714.1 L866 714.7 L867.5 715.2 L869 715.6 L870.5 715.9 L872 716.2 L873.5 716.4 L875 716.6 L876.5 716.8 L878 716.9 L879.5 717.1 L881 717.2 L882.5 717.3 L884 717.3 L885.5 717.4 L887 717.4 L888.5 717.4 L890 717.4 L891.5 717.3 L893 717.2 L894.5 717 L896 716.8 L897.5 716.5 L899 716.2 L900.5 715.9 L902 715.6 L903.5 715.3 L905 715 L906.5 714.6 L908 714.3 L909.5 713.9 L911 713.5 L912.5 713 L914 712.6 L915.5 712.1 L917 711.6 L918.5 711.1 L920 710.6 L921.5 710.1 L923 709.5 L924.5 709 L926 708.4 L927.5 707.8 L929 707.1 L930.5 706.5 L932 705.8 L933.5 705.2 L935 704.6 L936.5 704 L938 703.6" stroke="#ee2c34" stroke-width="2.3"/>
<path d="M593 716.7 L594.5 717.3 L596 718 L597.5 718.7 L599 719.5 L600.5 720.2 L602 720.8 L603.5 721.4 L605 721.9 L606.5 722.3 L608 722.7 L609.5 723.1 L611 723.3 L612.5 723.6 L614 723.7 L615.5 723.7 L617 723.5 L618.5 723.1 L620 722.6 L621.5 721.8 L623 720.9 L624.5 719.8 L626 718.5 L627.5 717 L629 715.3 L630.5 713.3 L632 711.1 L633.5 708.8 L635 706.3 L636.5 703.8 L638 701.3 L639.5 698.7 L641 696 L642.5 693.3 L644 690.4 L645.5 687.4 L647 684.2 L648.5 680.7 L650 677 L651.5 673 L653 668.6 L654.5 663.9 L656 658.9 L657.5 653.7 L659 648.3 L660.5 642.8 L662 637.2 L663.5 631.6 L665 625.9 L666.5 620.1 L668 614.2 L669.5 608.3 L671 602.3 L672.5 596.4 L674 590.5 L675.5 584.7 L677 579 L678.5 573.4 L680 568 L681.5 562.6 L683 557.3 L684.5 552.2 L686 547.1 L687.5 542.1 L689 537.2 L690.5 532.5 L692 527.9 L693.5 523.5 L695 519.2 L696.5 515.1 L698 511.1 L699.5 507.2 L701 503.5 L702.5 500 L704 496.6 L705.5 493.4 L707 490.3 L708.5 487.3 L710 484.5 L711.5 481.8 L713 479.1 L714.5 476.6 L716 474.1 L717.5 471.7 L719 469.3 L720.5 467.1 L722 464.9 L723.5 462.8 L725 460.9 L726.5 459.2 L728 457.8 L729.5 456.9 L731 456.5 L732.5 456.5 L734 456.8 L735.5 457.4 L737 458.1 L738.5 459 L740 460.2 L741.5 461.5 L743 463 L744.5 464.8 L746 466.7 L747.5 468.6 L749 470.7 L750.5 472.7 L752 474.8 L753.5 477 L755 479.2 L756.5 481.4 L758 483.7 L759.5 486.1 L761 488.4 L762.5 490.8 L764 493.2 L765.5 495.6 L767 498 L768.5 500.5 L770 502.9 L771.5 505.5 L773 508.1 L774.5 510.8 L776 513.6 L777.5 516.5 L779 519.5 L780.5 522.8 L782 526.1 L783.5 529.7 L785 533.4 L786.5 537.2 L788 541.1 L789.5 545 L791 548.8 L792.5 552.6 L794 556.3 L795.5 560 L797 563.6 L798.5 567.1 L800 570.6 L801.5 574 L803 577.5 L804.5 581 L806 584.4 L807.5 587.9 L809 591.5 L810.5 595 L812 598.6 L813.5 602.3 L815 605.9 L816.5 609.6 L818 613.4 L819.5 617.2 L821 621 L822.5 624.9 L824 628.9 L825.5 633 L827 637.2 L828.5 641.4 L830 645.7 L831.5 650 L833 654.3 L834.5 658.6 L836 662.8 L837.5 667 L839 671.1 L840.5 675 L842 678.7 L843.5 682.2 L845 685.5 L846.5 688.6 L848 691.5 L849.5 694.1 L851 696.6 L852.5 698.9 L854 701.1 L855.5 703 L857 704.8 L858.5 706.4 L860 707.8 L861.5 709.1 L863 710.2 L864.5 711.2 L866 712.1 L867.5 712.9 L869 713.6 L870.5 714.2 L872 714.6 L873.5 714.9 L875 715.1 L876.5 715.3 L878 715.5 L879.5 715.6 L881 715.7 L882.5 715.8 L884 715.9 L885.5 715.9 L887 715.9 L888.5 715.9 L890 715.9 L891.5 715.8 L893 715.7 L894.5 715.5 L896 715.3 L897.5 715 L899 714.7 L900.5 714.4 L902 714.1 L903.5 713.8 L905 713.5 L906.5 713.1 L908 712.7 L909.5 712.3 L911 711.8 L912.5 711.3 L914 710.8 L915.5 710.3 L917 709.7 L918.5 709.2 L920 708.6 L921.5 708.1 L923 707.5 L924.5 706.9 L926 706.3 L927.5 705.7 L929 705 L930.5 704.4 L932 703.7 L933.5 703.1 L935 702.5 L936.5 702 L938 701.6" stroke="#ee40e4" stroke-width="2.0"/>
<path d="M593 713 L594.5 713.7 L596 714.5 L597.5 715.5 L599 716.4 L600.5 717.2 L602 718 L603.5 718.6 L605 719.2 L606.5 719.6 L608 720 L609.5 720.3 L611 720.5 L612.5 720.6 L614 720.6 L615.5 720.4 L617 719.9 L618.5 719.3 L620 718.5 L621.5 717.6 L623 716.4 L624.5 715.1 L626 713.5 L627.5 711.7 L629 709.7 L630.5 707.5 L632 705.2 L633.5 702.9 L635 700.5 L636.5 698.2 L638 695.9 L639.5 693.5 L641 691 L642.5 688.4 L644 685.6 L645.5 682.6 L647 679.2 L648.5 675.4 L650 671.2 L651.5 666.4 L653 661.3 L654.5 655.7 L656 649.9 L657.5 644 L659 637.9 L660.5 631.8 L662 625.6 L663.5 619.3 L665 613 L666.5 606.5 L668 600.1 L669.5 593.7 L671 587.5 L672.5 581.3 L674 575.3 L675.5 569.5 L677 563.7 L678.5 558.1 L680 552.6 L681.5 547.2 L683 541.9 L684.5 536.8 L686 531.9 L687.5 527.2 L689 522.7 L690.5 518.5 L692 514.4 L693.5 510.5 L695 506.8 L696.5 503.3 L698 499.8 L699.5 496.5 L701 493.3 L702.5 490.2 L704 487.2 L705.5 484.3 L707 481.5 L708.5 478.7 L710 476.1 L711.5 473.6 L713 471.1 L714.5 468.8 L716 466.5 L717.5 464.3 L719 462.2 L720.5 460.2 L722 458.3 L723.5 456.6 L725 454.9 L726.5 453.5 L728 452.3 L729.5 451.4 L731 450.9 L732.5 450.9 L734 451.1 L735.5 451.6 L737 452.4 L738.5 453.3 L740 454.3 L741.5 455.5 L743 456.9 L744.5 458.5 L746 460.2 L747.5 462.1 L749 464 L750.5 466 L752 468 L753.5 470.1 L755 472.2 L756.5 474.4 L758 476.6 L759.5 478.9 L761 481.2 L762.5 483.7 L764 486.1 L765.5 488.7 L767 491.3 L768.5 494 L770 496.7 L771.5 499.6 L773 502.4 L774.5 505.3 L776 508.2 L777.5 511.2 L779 514.1 L780.5 517 L782 520 L783.5 522.9 L785 525.9 L786.5 528.8 L788 531.8 L789.5 534.8 L791 537.8 L792.5 540.8 L794 543.9 L795.5 547 L797 550.1 L798.5 553.3 L800 556.5 L801.5 559.8 L803 563.1 L804.5 566.4 L806 569.8 L807.5 573.3 L809 576.7 L810.5 580.3 L812 583.8 L813.5 587.5 L815 591.2 L816.5 595 L818 598.9 L819.5 602.9 L821 607 L822.5 611.1 L824 615.3 L825.5 619.5 L827 623.7 L828.5 627.7 L830 631.7 L831.5 635.6 L833 639.5 L834.5 643.3 L836 647.2 L837.5 651 L839 654.9 L840.5 658.9 L842 663 L843.5 667 L845 671 L846.5 674.9 L848 678.5 L849.5 681.9 L851 685.1 L852.5 688 L854 690.7 L855.5 693.3 L857 695.7 L858.5 697.9 L860 700 L861.5 702 L863 703.7 L864.5 705.3 L866 706.7 L867.5 707.9 L869 709 L870.5 710 L872 710.9 L873.5 711.6 L875 712.2 L876.5 712.6 L878 713 L879.5 713.3 L881 713.5 L882.5 713.6 L884 713.7 L885.5 713.8 L887 713.9 L888.5 713.9 L890 713.8 L891.5 713.7 L893 713.6 L894.5 713.4 L896 713.1 L897.5 712.8 L899 712.5 L900.5 712.1 L902 711.7 L903.5 711.4 L905 711 L906.5 710.6 L908 710.2 L909.5 709.7 L911 709.3 L912.5 708.8 L914 708.3 L915.5 707.8 L917 707.2 L918.5 706.6 L920 706.1 L921.5 705.4 L923 704.8 L924.5 704.1 L926 703.4 L927.5 702.7 L929 702 L930.5 701.2 L932 700.4 L933.5 699.6 L935 698.9 L936.5 698.2 L938 697.7" stroke="#8a30e0" stroke-width="2.1"/>
<path d="M593 710.9 L594.5 711.5 L596 712.3 L597.5 713.1 L599 713.9 L600.5 714.7 L602 715.4 L603.5 716.1 L605 716.6 L606.5 717.1 L608 717.5 L609.5 717.7 L611 717.9 L612.5 717.8 L614 717.5 L615.5 717.1 L617 716.5 L618.5 715.7 L620 714.7 L621.5 713.7 L623 712.4 L624.5 710.9 L626 709.2 L627.5 707.1 L629 704.7 L630.5 701.8 L632 698.6 L633.5 695 L635 691 L636.5 686.9 L638 682.5 L639.5 677.9 L641 673.2 L642.5 668.2 L644 663 L645.5 657.6 L647 652 L648.5 646.3 L650 640.6 L651.5 634.8 L653 629 L654.5 623.1 L656 617.3 L657.5 611.4 L659 605.5 L660.5 599.6 L662 593.8 L663.5 588 L665 582.5 L666.5 577.1 L668 571.8 L669.5 566.7 L671 561.7 L672.5 556.8 L674 552 L675.5 547.3 L677 542.7 L678.5 538.2 L680 533.8 L681.5 529.6 L683 525.5 L684.5 521.5 L686 517.7 L687.5 514 L689 510.4 L690.5 506.9 L692 503.5 L693.5 500.2 L695 497 L696.5 493.9 L698 491 L699.5 488.2 L701 485.5 L702.5 482.9 L704 480.4 L705.5 478 L707 475.7 L708.5 473.4 L710 471.2 L711.5 469 L713 466.8 L714.5 464.6 L716 462.6 L717.5 460.5 L719 458.6 L720.5 456.9 L722 455.2 L723.5 453.6 L725 452.2 L726.5 450.9 L728 449.8 L729.5 449 L731 448.5 L732.5 448.4 L734 448.6 L735.5 449.1 L737 449.9 L738.5 450.9 L740 452 L741.5 453.3 L743 454.7 L744.5 456.2 L746 457.8 L747.5 459.5 L749 461.3 L750.5 463.2 L752 465.1 L753.5 467 L755 468.9 L756.5 471 L758 473 L759.5 475.2 L761 477.3 L762.5 479.6 L764 481.8 L765.5 484.2 L767 486.5 L768.5 489 L770 491.4 L771.5 493.9 L773 496.5 L774.5 499.1 L776 501.7 L777.5 504.4 L779 507.1 L780.5 509.8 L782 512.6 L783.5 515.3 L785 518.2 L786.5 521 L788 523.9 L789.5 526.8 L791 529.7 L792.5 532.7 L794 535.7 L795.5 538.8 L797 541.9 L798.5 545 L800 548.1 L801.5 551.3 L803 554.6 L804.5 557.8 L806 561.1 L807.5 564.5 L809 567.9 L810.5 571.3 L812 574.8 L813.5 578.5 L815 582.1 L816.5 585.9 L818 589.7 L819.5 593.5 L821 597.2 L822.5 600.8 L824 604.4 L825.5 607.8 L827 611.1 L828.5 614.4 L830 617.7 L831.5 621.2 L833 624.7 L834.5 628.5 L836 632.5 L837.5 636.8 L839 641.3 L840.5 645.8 L842 650.3 L843.5 654.7 L845 658.9 L846.5 662.9 L848 666.5 L849.5 669.8 L851 673 L852.5 676.1 L854 679.1 L855.5 682.2 L857 685.2 L858.5 688.2 L860 691 L861.5 693.7 L863 696.1 L864.5 698.3 L866 700.3 L867.5 702.2 L869 703.8 L870.5 705.2 L872 706.5 L873.5 707.6 L875 708.5 L876.5 709.4 L878 710.1 L879.5 710.6 L881 711.1 L882.5 711.4 L884 711.7 L885.5 711.9 L887 712.1 L888.5 712.1 L890 712.1 L891.5 712 L893 711.8 L894.5 711.6 L896 711.3 L897.5 711 L899 710.6 L900.5 710.2 L902 709.8 L903.5 709.4 L905 709 L906.5 708.5 L908 708.1 L909.5 707.6 L911 707.1 L912.5 706.6 L914 706 L915.5 705.4 L917 704.8 L918.5 704.2 L920 703.5 L921.5 702.8 L923 702.1 L924.5 701.3 L926 700.5 L927.5 699.7 L929 698.8 L930.5 697.9 L932 697 L933.5 696.1 L935 695.2 L936.5 694.4 L938 693.8" stroke="#3c2cb8" stroke-width="2.1"/>
</g>
<rect x="592.7" y="415.2" width="345.3" height="316.8" fill="none" stroke="#1e1e1e" stroke-width="2.2"/>
<path d="M770.5 706.5 L844.3 580.3" stroke="#0a0a0a" stroke-width="2.4" fill="none"/>
<path d="M848.8 572.5 L846.8 588.7 L844.1 580.5 L835.6 582.2 Z" fill="#0a0a0a"/>
<text x="587" y="441" font-family="'Liberation Sans', Arial, sans-serif" font-size="20" font-weight="bold" text-anchor="end" fill="#484848" textLength="30.5" lengthAdjust="spacingAndGlyphs">0.14</text>
<text x="587" y="491.4" font-family="'Liberation Sans', Arial, sans-serif" font-size="20" font-weight="bold" text-anchor="end" fill="#484848" textLength="30.5" lengthAdjust="spacingAndGlyphs">0.12</text>
<text x="587" y="540" font-family="'Liberation Sans', Arial, sans-serif" font-size="20" font-weight="bold" text-anchor="end" fill="#484848" textLength="30.5" lengthAdjust="spacingAndGlyphs">0.10</text>
<text x="587" y="589.6" font-family="'Liberation Sans', Arial, sans-serif" font-size="20" font-weight="bold" text-anchor="end" fill="#484848" textLength="30.5" lengthAdjust="spacingAndGlyphs">0.08</text>
<text x="587" y="639.8" font-family="'Liberation Sans', Arial, sans-serif" font-size="20" font-weight="bold" text-anchor="end" fill="#484848" textLength="30.5" lengthAdjust="spacingAndGlyphs">0.06</text>
<text x="587" y="689.2" font-family="'Liberation Sans', Arial, sans-serif" font-size="20" font-weight="bold" text-anchor="end" fill="#484848" textLength="30.5" lengthAdjust="spacingAndGlyphs">0.04</text>
<text x="602" y="756.4" font-family="'Liberation Sans', Arial, sans-serif" font-size="20" font-weight="bold" text-anchor="middle" fill="#484848" textLength="24.6" lengthAdjust="spacingAndGlyphs">350</text>
<text x="666.5" y="756.4" font-family="'Liberation Sans', Arial, sans-serif" font-size="20" font-weight="bold" text-anchor="middle" fill="#484848" textLength="24.6" lengthAdjust="spacingAndGlyphs">400</text>
<text x="731" y="756.4" font-family="'Liberation Sans', Arial, sans-serif" font-size="20" font-weight="bold" text-anchor="middle" fill="#484848" textLength="24.6" lengthAdjust="spacingAndGlyphs">450</text>
<text x="796.3" y="756.4" font-family="'Liberation Sans', Arial, sans-serif" font-size="20" font-weight="bold" text-anchor="middle" fill="#484848" textLength="24.6" lengthAdjust="spacingAndGlyphs">500</text>
<text x="860.5" y="756.4" font-family="'Liberation Sans', Arial, sans-serif" font-size="20" font-weight="bold" text-anchor="middle" fill="#484848" textLength="24.6" lengthAdjust="spacingAndGlyphs">550</text>
<text x="926.5" y="756.4" font-family="'Liberation Sans', Arial, sans-serif" font-size="20" font-weight="bold" text-anchor="middle" fill="#484848" textLength="24.6" lengthAdjust="spacingAndGlyphs">600</text>
<text x="761.5" y="775" font-family="'Liberation Sans', Arial, sans-serif" font-size="18.5" font-weight="bold" text-anchor="middle" fill="#484848" textLength="124" lengthAdjust="spacingAndGlyphs">Wavelength (nm)</text>
<text x="0" y="0" font-family="'Liberation Sans', Arial, sans-serif" font-size="16" font-weight="bold" text-anchor="middle" fill="#1a1a1a" textLength="133.5" lengthAdjust="spacingAndGlyphs" transform="translate(545.4 563.5) rotate(-90)" letter-spacing="1.2" stroke="#1a1a1a" stroke-width="0.4">Absorbance</text>
<text x="834" y="546.6" font-family="'Liberation Serif', 'Times New Roman', serif" font-size="25.5" font-weight="bold" text-anchor="start" fill="#0a0a0a" textLength="98.5" lengthAdjust="spacingAndGlyphs" stroke="#0a0a0a" stroke-width="0.7" stroke-linejoin="round">55 minute</text>
<text x="704.5" y="724.3" font-family="'Liberation Serif', 'Times New Roman', serif" font-size="25.5" font-weight="bold" text-anchor="start" fill="#0a0a0a" textLength="86" lengthAdjust="spacingAndGlyphs" stroke="#0a0a0a" stroke-width="0.7" stroke-linejoin="round">5 minute</text>
<rect x="1440" y="300" width="556.5" height="492.8" fill="#ffffff"/>
<clipPath id="cb"><rect x="1526" y="311.3" width="464" height="417.7"/></clipPath>
<g clip-path="url(#cb)" fill="none" stroke-linejoin="round">
<path d="M1526 717.8 L1527.5 717.8 L1529 717.7 L1530.5 717.7 L1532 717.7 L1533.5 717.6 L1535 717.5 L1536.5 717.5 L1538 717.4 L1539.5 717.3 L1541 717.2 L1542.5 717.1 L1544 717.1 L1545.5 717 L1547 716.8 L1548.5 716.7 L1550 716.6 L1551.5 716.5 L1553 716.3 L1554.5 716.1 L1556 715.9 L1557.5 715.7 L1559 715.5 L1560.5 715.2 L1562 714.9 L1563.5 714.5 L1565 714.1 L1566.5 713.6 L1568 713.2 L1569.5 712.7 L1571 712.2 L1572.5 711.6 L1574 711.1 L1575.5 710.5 L1577 710 L1578.5 709.4 L1580 708.8 L1581.5 708.1 L1583 707.4 L1584.5 706.7 L1586 706 L1587.5 705.3 L1589 704.5 L1590.5 703.7 L1592 702.8 L1593.5 701.9 L1595 701 L1596.5 700.1 L1598 699.1 L1599.5 698.1 L1601 697 L1602.5 695.9 L1604 694.7 L1605.5 693.5 L1607 692.2 L1608.5 691 L1610 689.7 L1611.5 688.4 L1613 687.1 L1614.5 685.7 L1616 684.4 L1617.5 683 L1619 681.6 L1620.5 680.3 L1622 678.8 L1623.5 677.4 L1625 675.9 L1626.5 674.4 L1628 672.8 L1629.5 671.2 L1631 669.6 L1632.5 667.9 L1634 666.1 L1635.5 664.2 L1637 662.3 L1638.5 660.2 L1640 658.1 L1641.5 655.9 L1643 653.7 L1644.5 651.4 L1646 649.2 L1647.5 647 L1649 644.9 L1650.5 642.9 L1652 640.9 L1653.5 639.1 L1655 637.2 L1656.5 635.4 L1658 633.7 L1659.5 632 L1661 630.4 L1662.5 628.9 L1664 627.5 L1665.5 626.4 L1667 625.4 L1668.5 624.6 L1670 623.9 L1671.5 623.4 L1673 622.9 L1674.5 622.5 L1676 622.1 L1677.5 621.7 L1679 621.3 L1680.5 620.9 L1682 620.5 L1683.5 620 L1685 619.5 L1686.5 619 L1688 618.5 L1689.5 618 L1691 617.4 L1692.5 616.8 L1694 616.2 L1695.5 615.5 L1697 614.8 L1698.5 614 L1700 613.1 L1701.5 612.2 L1703 611.1 L1704.5 609.8 L1706 608.5 L1707.5 607 L1709 605.5 L1710.5 603.9 L1712 602.2 L1713.5 600.5 L1715 598.9 L1716.5 597.2 L1718 595.6 L1719.5 594 L1721 592.4 L1722.5 590.7 L1724 589.1 L1725.5 587.4 L1727 585.8 L1728.5 584.3 L1730 582.8 L1731.5 581.5 L1733 580.3 L1734.5 579.2 L1736 578.2 L1737.5 577.4 L1739 576.6 L1740.5 575.9 L1742 575.3 L1743.5 574.9 L1745 574.7 L1746.5 574.7 L1748 574.8 L1749.5 575.2 L1751 575.7 L1752.5 576.4 L1754 577.2 L1755.5 578.1 L1757 579.2 L1758.5 580.5 L1760 582 L1761.5 583.8 L1763 585.8 L1764.5 588 L1766 590.5 L1767.5 593 L1769 595.6 L1770.5 598.3 L1772 601 L1773.5 603.8 L1775 606.7 L1776.5 609.6 L1778 612.6 L1779.5 615.7 L1781 618.7 L1782.5 621.7 L1784 624.7 L1785.5 627.4 L1787 630.1 L1788.5 632.7 L1790 635.1 L1791.5 637.5 L1793 639.8 L1794.5 642.2 L1796 644.6 L1797.5 647 L1799 649.6 L1800.5 652.3 L1802 655.1 L1803.5 658 L1805 661 L1806.5 664 L1808 666.9 L1809.5 669.7 L1811 672.3 L1812.5 674.7 L1814 677 L1815.5 679 L1817 681 L1818.5 682.8 L1820 684.5 L1821.5 686.2 L1823 687.8 L1824.5 689.3 L1826 690.8 L1827.5 692.3 L1829 693.7 L1830.5 695.1 L1832 696.4 L1833.5 697.6 L1835 698.7 L1836.5 699.8 L1838 700.7 L1839.5 701.6 L1841 702.4 L1842.5 703.1 L1844 703.8 L1845.5 704.4 L1847 705 L1848.5 705.6 L1850 706.1 L1851.5 706.7 L1853 707.2 L1854.5 707.7 L1856 708.1 L1857.5 708.6 L1859 709 L1860.5 709.4 L1862 709.8 L1863.5 710.2 L1865 710.6 L1866.5 711 L1868 711.3 L1869.5 711.7 L1871 712.1 L1872.5 712.4 L1874 712.7 L1875.5 713 L1877 713.3 L1878.5 713.6 L1880 713.9 L1881.5 714.2 L1883 714.5 L1884.5 714.8 L1886 715 L1887.5 715.3 L1889 715.6 L1890.5 715.8 L1892 716.1 L1893.5 716.4 L1895 716.7 L1896.5 716.9 L1898 717.2 L1899.5 717.5 L1901 717.7 L1902.5 718 L1904 718.2 L1905.5 718.5 L1907 718.8 L1908.5 719 L1910 719.3 L1911.5 719.5 L1913 719.8 L1914.5 720 L1916 720.2 L1917.5 720.5 L1919 720.7 L1920.5 721 L1922 721.2 L1923.5 721.4 L1925 721.7 L1926.5 721.9 L1928 722.1 L1929.5 722.3 L1931 722.6 L1932.5 722.8 L1934 723 L1935.5 723.2 L1937 723.4 L1938.5 723.6 L1940 723.8 L1941.5 724.1 L1943 724.3 L1944.5 724.5 L1946 724.7 L1947.5 724.9 L1949 725.1 L1950.5 725.3 L1952 725.5 L1953.5 725.7 L1955 725.9 L1956.5 726.1 L1958 726.3 L1959.5 726.5 L1961 726.6 L1962.5 726.8 L1964 727 L1965.5 727.2 L1967 727.4 L1968.5 727.6 L1970 727.8 L1971.5 727.9 L1973 728.1 L1974.5 728.3 L1976 728.5 L1977.5 728.6 L1979 728.8 L1980.5 729 L1982 729.1 L1983.5 729.3 L1985 729.5 L1986.5 729.6 L1988 729.7 L1989.5 729.8" stroke="#1c1c1c" stroke-width="2.0"/>
<path d="M1526 706.1 L1527.5 706.2 L1529 706.3 L1530.5 706.4 L1532 706.5 L1533.5 706.6 L1535 706.7 L1536.5 706.8 L1538 706.8 L1539.5 706.9 L1541 706.9 L1542.5 706.9 L1544 707 L1545.5 707 L1547 707 L1548.5 707 L1550 707 L1551.5 706.9 L1553 706.8 L1554.5 706.7 L1556 706.4 L1557.5 706.1 L1559 705.7 L1560.5 705.2 L1562 704.7 L1563.5 704.1 L1565 703.5 L1566.5 702.8 L1568 702 L1569.5 701.3 L1571 700.5 L1572.5 699.7 L1574 698.9 L1575.5 698 L1577 697 L1578.5 695.9 L1580 694.8 L1581.5 693.5 L1583 692.3 L1584.5 690.9 L1586 689.6 L1587.5 688.3 L1589 686.9 L1590.5 685.6 L1592 684.3 L1593.5 682.9 L1595 681.6 L1596.5 680.2 L1598 678.8 L1599.5 677.2 L1601 675.6 L1602.5 673.9 L1604 672 L1605.5 670 L1607 668 L1608.5 665.8 L1610 663.5 L1611.5 661.1 L1613 658.7 L1614.5 656.1 L1616 653.5 L1617.5 650.8 L1619 648.1 L1620.5 645.3 L1622 642.5 L1623.5 639.6 L1625 636.7 L1626.5 633.8 L1628 630.9 L1629.5 628 L1631 625 L1632.5 622.1 L1634 619.1 L1635.5 616 L1637 612.9 L1638.5 609.6 L1640 606.3 L1641.5 602.8 L1643 599.3 L1644.5 595.7 L1646 592.1 L1647.5 588.4 L1649 584.7 L1650.5 581.1 L1652 577.5 L1653.5 573.9 L1655 570.5 L1656.5 567.2 L1658 564 L1659.5 561 L1661 558.1 L1662.5 555.5 L1664 553 L1665.5 550.7 L1667 548.6 L1668.5 546.6 L1670 544.8 L1671.5 543 L1673 541.4 L1674.5 540 L1676 538.7 L1677.5 537.6 L1679 536.6 L1680.5 535.9 L1682 535.2 L1683.5 534.7 L1685 534.3 L1686.5 533.9 L1688 533.5 L1689.5 533 L1691 532.6 L1692.5 532 L1694 531.4 L1695.5 530.7 L1697 529.9 L1698.5 529 L1700 528 L1701.5 526.9 L1703 525.7 L1704.5 524.3 L1706 522.6 L1707.5 520.7 L1709 518.5 L1710.5 515.9 L1712 513 L1713.5 509.9 L1715 506.6 L1716.5 503.3 L1718 500 L1719.5 496.7 L1721 493.5 L1722.5 490.3 L1724 487.1 L1725.5 483.9 L1727 480.9 L1728.5 477.9 L1730 475 L1731.5 472.3 L1733 469.8 L1734.5 467.5 L1736 465.3 L1737.5 463.2 L1739 461.3 L1740.5 459.5 L1742 457.8 L1743.5 456.4 L1745 455.2 L1746.5 454.2 L1748 453.3 L1749.5 452.7 L1751 452.3 L1752.5 452.1 L1754 452.1 L1755.5 452.5 L1757 453.2 L1758.5 454.3 L1760 455.7 L1761.5 457.5 L1763 459.7 L1764.5 462.2 L1766 465.1 L1767.5 468.3 L1769 471.9 L1770.5 475.7 L1772 479.9 L1773.5 484.3 L1775 489 L1776.5 493.9 L1778 498.9 L1779.5 503.9 L1781 509.1 L1782.5 514.3 L1784 519.6 L1785.5 525 L1787 530.5 L1788.5 536.2 L1790 542.1 L1791.5 548.1 L1793 554.4 L1794.5 560.9 L1796 567.7 L1797.5 574.6 L1799 581.6 L1800.5 588.6 L1802 595.5 L1803.5 602.3 L1805 608.9 L1806.5 615.3 L1808 621.4 L1809.5 627.3 L1811 632.9 L1812.5 638.2 L1814 643.2 L1815.5 647.7 L1817 651.8 L1818.5 655.5 L1820 658.8 L1821.5 661.9 L1823 664.8 L1824.5 667.6 L1826 670.2 L1827.5 672.6 L1829 675 L1830.5 677.3 L1832 679.5 L1833.5 681.5 L1835 683.4 L1836.5 685.2 L1838 686.8 L1839.5 688.2 L1841 689.5 L1842.5 690.7 L1844 691.9 L1845.5 693 L1847 694 L1848.5 695 L1850 696 L1851.5 696.9 L1853 697.8 L1854.5 698.6 L1856 699.4 L1857.5 700.1 L1859 700.9 L1860.5 701.5 L1862 702.2 L1863.5 702.8 L1865 703.4 L1866.5 703.9 L1868 704.5 L1869.5 705 L1871 705.4 L1872.5 705.9 L1874 706.3 L1875.5 706.8 L1877 707.2 L1878.5 707.5 L1880 707.9 L1881.5 708.3 L1883 708.6 L1884.5 709 L1886 709.3 L1887.5 709.6 L1889 710 L1890.5 710.3 L1892 710.6 L1893.5 711 L1895 711.3 L1896.5 711.6 L1898 712 L1899.5 712.3 L1901 712.6 L1902.5 713 L1904 713.3 L1905.5 713.6 L1907 713.9 L1908.5 714.2 L1910 714.5 L1911.5 714.8 L1913 715.1 L1914.5 715.4 L1916 715.7 L1917.5 716 L1919 716.3 L1920.5 716.6 L1922 716.9 L1923.5 717.1 L1925 717.4 L1926.5 717.7 L1928 718 L1929.5 718.2 L1931 718.5 L1932.5 718.7 L1934 719 L1935.5 719.2 L1937 719.5 L1938.5 719.7 L1940 720 L1941.5 720.2 L1943 720.5 L1944.5 720.7 L1946 721 L1947.5 721.2 L1949 721.4 L1950.5 721.7 L1952 721.9 L1953.5 722.1 L1955 722.4 L1956.5 722.6 L1958 722.8 L1959.5 723 L1961 723.2 L1962.5 723.5 L1964 723.7 L1965.5 723.9 L1967 724.1 L1968.5 724.3 L1970 724.5 L1971.5 724.7 L1973 724.9 L1974.5 725.1 L1976 725.3 L1977.5 725.5 L1979 725.7 L1980.5 725.9 L1982 726.1 L1983.5 726.2 L1985 726.4 L1986.5 726.6 L1988 726.7 L1989.5 726.8" stroke="#e83838" stroke-width="2.0"/>
<path d="M1526 710 L1527.5 710 L1529 710 L1530.5 710 L1532 710 L1533.5 710 L1535 710 L1536.5 710 L1538 710 L1539.5 710 L1541 710 L1542.5 710 L1544 710 L1545.5 710 L1547 710 L1548.5 710 L1550 709.9 L1551.5 709.9 L1553 709.7 L1554.5 709.5 L1556 709.1 L1557.5 708.6 L1559 708 L1560.5 707.3 L1562 706.5 L1563.5 705.6 L1565 704.6 L1566.5 703.7 L1568 702.7 L1569.5 701.7 L1571 700.6 L1572.5 699.6 L1574 698.5 L1575.5 697.3 L1577 696.1 L1578.5 694.8 L1580 693.5 L1581.5 692.1 L1583 690.8 L1584.5 689.4 L1586 688 L1587.5 686.7 L1589 685.4 L1590.5 684 L1592 682.7 L1593.5 681.3 L1595 679.8 L1596.5 678.3 L1598 676.8 L1599.5 675.1 L1601 673.3 L1602.5 671.5 L1604 669.6 L1605.5 667.5 L1607 665.4 L1608.5 663.3 L1610 661 L1611.5 658.7 L1613 656.3 L1614.5 653.9 L1616 651.4 L1617.5 648.8 L1619 646.1 L1620.5 643.4 L1622 640.6 L1623.5 637.8 L1625 634.9 L1626.5 632 L1628 628.9 L1629.5 625.9 L1631 622.7 L1632.5 619.5 L1634 616 L1635.5 612.4 L1637 608.6 L1638.5 604.6 L1640 600.3 L1641.5 595.9 L1643 591.4 L1644.5 586.8 L1646 582.2 L1647.5 577.6 L1649 573.1 L1650.5 568.7 L1652 564.5 L1653.5 560.4 L1655 556.6 L1656.5 553 L1658 549.6 L1659.5 546.4 L1661 543.3 L1662.5 540.4 L1664 537.6 L1665.5 534.9 L1667 532.5 L1668.5 530.2 L1670 528.3 L1671.5 526.6 L1673 525.2 L1674.5 524.1 L1676 523.1 L1677.5 522.2 L1679 521.4 L1680.5 520.7 L1682 520.1 L1683.5 519.5 L1685 518.9 L1686.5 518.4 L1688 518 L1689.5 517.5 L1691 517.1 L1692.5 516.8 L1694 516.4 L1695.5 515.9 L1697 515.4 L1698.5 514.7 L1700 513.9 L1701.5 512.8 L1703 511.4 L1704.5 509.7 L1706 507.8 L1707.5 505.7 L1709 503.4 L1710.5 501 L1712 498.5 L1713.5 495.7 L1715 492.9 L1716.5 489.8 L1718 486.5 L1719.5 483.2 L1721 479.7 L1722.5 476.1 L1724 472.6 L1725.5 469.2 L1727 465.7 L1728.5 462.3 L1730 458.9 L1731.5 455.6 L1733 452.3 L1734.5 449.2 L1736 446.2 L1737.5 443.6 L1739 441.2 L1740.5 439.1 L1742 437.3 L1743.5 435.7 L1745 434.3 L1746.5 433 L1748 431.8 L1749.5 430.9 L1751 430.2 L1752.5 429.8 L1754 429.7 L1755.5 429.8 L1757 430.3 L1758.5 431 L1760 431.9 L1761.5 433 L1763 434.4 L1764.5 436 L1766 438 L1767.5 440.4 L1769 443.3 L1770.5 446.9 L1772 451.3 L1773.5 456.3 L1775 461.7 L1776.5 467.5 L1778 473.3 L1779.5 479.1 L1781 484.9 L1782.5 490.7 L1784 496.5 L1785.5 502.4 L1787 508.2 L1788.5 514.1 L1790 520 L1791.5 525.8 L1793 531.7 L1794.5 537.7 L1796 543.7 L1797.5 549.9 L1799 556.3 L1800.5 563 L1802 570.1 L1803.5 577.3 L1805 584.8 L1806.5 592.2 L1808 599.4 L1809.5 606.3 L1811 612.7 L1812.5 618.6 L1814 624.1 L1815.5 629.1 L1817 633.8 L1818.5 638.2 L1820 642.2 L1821.5 646 L1823 649.6 L1824.5 653 L1826 656.1 L1827.5 659.2 L1829 662.1 L1830.5 664.8 L1832 667.3 L1833.5 669.7 L1835 671.9 L1836.5 673.8 L1838 675.6 L1839.5 677.2 L1841 678.6 L1842.5 679.9 L1844 681.1 L1845.5 682.2 L1847 683.3 L1848.5 684.3 L1850 685.3 L1851.5 686.2 L1853 687.1 L1854.5 687.9 L1856 688.7 L1857.5 689.4 L1859 690.1 L1860.5 690.8 L1862 691.5 L1863.5 692.1 L1865 692.8 L1866.5 693.4 L1868 694 L1869.5 694.5 L1871 695.1 L1872.5 695.6 L1874 696.2 L1875.5 696.7 L1877 697.2 L1878.5 697.6 L1880 698.1 L1881.5 698.5 L1883 699 L1884.5 699.4 L1886 699.8 L1887.5 700.1 L1889 700.5 L1890.5 700.8 L1892 701.1 L1893.5 701.4 L1895 701.7 L1896.5 702 L1898 702.3 L1899.5 702.5 L1901 702.8 L1902.5 703 L1904 703.2 L1905.5 703.4 L1907 703.6 L1908.5 703.8 L1910 704 L1911.5 704.2 L1913 704.4 L1914.5 704.6 L1916 704.8 L1917.5 705 L1919 705.1 L1920.5 705.3 L1922 705.5 L1923.5 705.7 L1925 705.8 L1926.5 706 L1928 706.2 L1929.5 706.4 L1931 706.6 L1932.5 706.8 L1934 707 L1935.5 707.2 L1937 707.4 L1938.5 707.6 L1940 707.8 L1941.5 708 L1943 708.3 L1944.5 708.5 L1946 708.7 L1947.5 708.9 L1949 709.1 L1950.5 709.3 L1952 709.5 L1953.5 709.7 L1955 710 L1956.5 710.2 L1958 710.4 L1959.5 710.6 L1961 710.8 L1962.5 711 L1964 711.2 L1965.5 711.4 L1967 711.7 L1968.5 711.9 L1970 712.1 L1971.5 712.3 L1973 712.5 L1974.5 712.7 L1976 713 L1977.5 713.2 L1979 713.4 L1980.5 713.6 L1982 713.8 L1983.5 714 L1985 714.3 L1986.5 714.5 L1988 714.6 L1989.5 714.8" stroke="#2a34e0" stroke-width="2.0"/>
<path d="M1526 708 L1527.5 708 L1529 708 L1530.5 708 L1532 708 L1533.5 708 L1535 708 L1536.5 708 L1538 708 L1539.5 708 L1541 708 L1542.5 708 L1544 708 L1545.5 708 L1547 708 L1548.5 708 L1550 707.9 L1551.5 707.8 L1553 707.6 L1554.5 707.3 L1556 706.9 L1557.5 706.3 L1559 705.5 L1560.5 704.7 L1562 703.7 L1563.5 702.7 L1565 701.6 L1566.5 700.5 L1568 699.4 L1569.5 698.3 L1571 697.2 L1572.5 696 L1574 694.8 L1575.5 693.5 L1577 692.2 L1578.5 690.9 L1580 689.6 L1581.5 688.2 L1583 686.9 L1584.5 685.7 L1586 684.5 L1587.5 683.3 L1589 682.2 L1590.5 681 L1592 679.9 L1593.5 678.6 L1595 677.3 L1596.5 676 L1598 674.5 L1599.5 672.9 L1601 671.2 L1602.5 669.4 L1604 667.6 L1605.5 665.6 L1607 663.5 L1608.5 661.4 L1610 659.2 L1611.5 656.9 L1613 654.5 L1614.5 652 L1616 649.5 L1617.5 646.8 L1619 644.1 L1620.5 641.3 L1622 638.5 L1623.5 635.6 L1625 632.6 L1626.5 629.5 L1628 626.3 L1629.5 623.1 L1631 619.7 L1632.5 616.1 L1634 612.2 L1635.5 608.1 L1637 603.7 L1638.5 599 L1640 594.2 L1641.5 589.1 L1643 584 L1644.5 578.9 L1646 573.8 L1647.5 568.8 L1649 563.9 L1650.5 559.3 L1652 554.8 L1653.5 550.6 L1655 546.6 L1656.5 542.8 L1658 539.1 L1659.5 535.6 L1661 532.3 L1662.5 529.2 L1664 526.4 L1665.5 523.9 L1667 521.6 L1668.5 519.5 L1670 517.5 L1671.5 515.8 L1673 514.2 L1674.5 512.7 L1676 511.5 L1677.5 510.4 L1679 509.6 L1680.5 509 L1682 508.4 L1683.5 508 L1685 507.7 L1686.5 507.4 L1688 507.1 L1689.5 506.8 L1691 506.4 L1692.5 506 L1694 505.5 L1695.5 504.8 L1697 504.1 L1698.5 503.3 L1700 502.3 L1701.5 501.3 L1703 500 L1704.5 498.6 L1706 496.9 L1707.5 494.7 L1709 492.1 L1710.5 489.1 L1712 485.5 L1713.5 481.6 L1715 477.4 L1716.5 473.1 L1718 468.8 L1719.5 464.4 L1721 460.1 L1722.5 455.6 L1724 451.2 L1725.5 446.7 L1727 442.3 L1728.5 438.1 L1730 434.1 L1731.5 430.4 L1733 427.2 L1734.5 424.3 L1736 421.7 L1737.5 419.5 L1739 417.5 L1740.5 415.9 L1742 414.5 L1743.5 413.3 L1745 412.4 L1746.5 411.6 L1748 411.1 L1749.5 410.7 L1751 410.7 L1752.5 411 L1754 411.6 L1755.5 412.5 L1757 413.7 L1758.5 415.2 L1760 417 L1761.5 419.2 L1763 421.7 L1764.5 424.6 L1766 427.9 L1767.5 431.5 L1769 435.5 L1770.5 439.8 L1772 444.4 L1773.5 449.3 L1775 454.5 L1776.5 459.9 L1778 465.6 L1779.5 471.5 L1781 477.8 L1782.5 484.3 L1784 491.2 L1785.5 498.2 L1787 505.5 L1788.5 512.8 L1790 520.2 L1791.5 527.6 L1793 535 L1794.5 542.5 L1796 550 L1797.5 557.5 L1799 565.1 L1800.5 572.7 L1802 580.2 L1803.5 587.7 L1805 594.9 L1806.5 602 L1808 608.7 L1809.5 615 L1811 620.9 L1812.5 626.4 L1814 631.6 L1815.5 636.5 L1817 641.1 L1818.5 645.5 L1820 649.5 L1821.5 653.4 L1823 657 L1824.5 660.5 L1826 663.7 L1827.5 666.7 L1829 669.6 L1830.5 672.2 L1832 674.7 L1833.5 677 L1835 679.1 L1836.5 681.2 L1838 683.1 L1839.5 685 L1841 686.7 L1842.5 688.4 L1844 689.9 L1845.5 691.3 L1847 692.6 L1848.5 693.7 L1850 694.8 L1851.5 695.7 L1853 696.6 L1854.5 697.3 L1856 698 L1857.5 698.7 L1859 699.3 L1860.5 699.9 L1862 700.4 L1863.5 701 L1865 701.5 L1866.5 702 L1868 702.5 L1869.5 702.9 L1871 703.4 L1872.5 703.8 L1874 704.2 L1875.5 704.6 L1877 705 L1878.5 705.4 L1880 705.8 L1881.5 706.2 L1883 706.6 L1884.5 706.9 L1886 707.3 L1887.5 707.6 L1889 708 L1890.5 708.3 L1892 708.6 L1893.5 709 L1895 709.3 L1896.5 709.6 L1898 710 L1899.5 710.3 L1901 710.6 L1902.5 711 L1904 711.3 L1905.5 711.6 L1907 711.9 L1908.5 712.3 L1910 712.6 L1911.5 712.9 L1913 713.2 L1914.5 713.5 L1916 713.8 L1917.5 714.1 L1919 714.4 L1920.5 714.7 L1922 714.9 L1923.5 715.2 L1925 715.5 L1926.5 715.7 L1928 716 L1929.5 716.3 L1931 716.5 L1932.5 716.8 L1934 717 L1935.5 717.2 L1937 717.5 L1938.5 717.7 L1940 717.9 L1941.5 718.1 L1943 718.4 L1944.5 718.6 L1946 718.8 L1947.5 719 L1949 719.2 L1950.5 719.5 L1952 719.7 L1953.5 719.9 L1955 720.1 L1956.5 720.3 L1958 720.5 L1959.5 720.7 L1961 720.9 L1962.5 721.1 L1964 721.3 L1965.5 721.4 L1967 721.6 L1968.5 721.8 L1970 722 L1971.5 722.2 L1973 722.3 L1974.5 722.5 L1976 722.7 L1977.5 722.8 L1979 723 L1980.5 723.1 L1982 723.3 L1983.5 723.4 L1985 723.6 L1986.5 723.7 L1988 723.8 L1989.5 723.9" stroke="#ee44e6" stroke-width="2.0"/>
<path d="M1526 705.1 L1527.5 705.2 L1529 705.3 L1530.5 705.4 L1532 705.5 L1533.5 705.6 L1535 705.7 L1536.5 705.8 L1538 705.8 L1539.5 705.9 L1541 705.9 L1542.5 705.9 L1544 706 L1545.5 706 L1547 706 L1548.5 706 L1550 705.9 L1551.5 705.8 L1553 705.5 L1554.5 705.2 L1556 704.7 L1557.5 704.1 L1559 703.4 L1560.5 702.6 L1562 701.8 L1563.5 700.9 L1565 699.9 L1566.5 698.9 L1568 697.9 L1569.5 696.8 L1571 695.6 L1572.5 694.3 L1574 693 L1575.5 691.5 L1577 690.1 L1578.5 688.6 L1580 687.1 L1581.5 685.5 L1583 684 L1584.5 682.5 L1586 681 L1587.5 679.5 L1589 678 L1590.5 676.4 L1592 674.7 L1593.5 672.9 L1595 671.1 L1596.5 669.2 L1598 667.1 L1599.5 665 L1601 662.8 L1602.5 660.5 L1604 658.2 L1605.5 655.7 L1607 653.2 L1608.5 650.6 L1610 647.8 L1611.5 645 L1613 642.1 L1614.5 639.1 L1616 636 L1617.5 632.8 L1619 629.4 L1620.5 626 L1622 622.4 L1623.5 618.5 L1625 614.4 L1626.5 610 L1628 605.2 L1629.5 600.2 L1631 594.8 L1632.5 589.2 L1634 583.5 L1635.5 577.7 L1637 571.9 L1638.5 566.2 L1640 560.7 L1641.5 555.2 L1643 549.9 L1644.5 544.8 L1646 539.7 L1647.5 534.6 L1649 529.6 L1650.5 524.7 L1652 519.8 L1653.5 515.1 L1655 510.6 L1656.5 506.2 L1658 502.1 L1659.5 498.3 L1661 494.7 L1662.5 491.4 L1664 488.3 L1665.5 485.4 L1667 482.7 L1668.5 480.1 L1670 477.7 L1671.5 475.5 L1673 473.5 L1674.5 471.7 L1676 470.1 L1677.5 468.7 L1679 467.4 L1680.5 466.2 L1682 465.1 L1683.5 464.1 L1685 463 L1686.5 461.9 L1688 460.6 L1689.5 459.3 L1691 457.9 L1692.5 456.3 L1694 454.7 L1695.5 453 L1697 451.1 L1698.5 449.1 L1700 447 L1701.5 444.6 L1703 442 L1704.5 439.2 L1706 436.1 L1707.5 432.7 L1709 429.2 L1710.5 425.5 L1712 421.7 L1713.5 417.8 L1715 413.7 L1716.5 409.6 L1718 405.5 L1719.5 401.4 L1721 397.4 L1722.5 393.5 L1724 389.6 L1725.5 385.9 L1727 382.3 L1728.5 378.7 L1730 375.3 L1731.5 372 L1733 368.9 L1734.5 366 L1736 363.5 L1737.5 361.2 L1739 359.2 L1740.5 357.5 L1742 356 L1743.5 354.7 L1745 353.8 L1746.5 353.3 L1748 353.3 L1749.5 353.9 L1751 355.2 L1752.5 357.4 L1754 360.5 L1755.5 364.9 L1757 370.4 L1758.5 377 L1760 384.1 L1761.5 391.5 L1763 398.7 L1764.5 405.7 L1766 412.5 L1767.5 419.4 L1769 426.3 L1770.5 433.4 L1772 440.8 L1773.5 448.5 L1775 456.5 L1776.5 464.7 L1778 472.9 L1779.5 481.1 L1781 489 L1782.5 496.6 L1784 503.7 L1785.5 510.5 L1787 517 L1788.5 523.4 L1790 529.7 L1791.5 536.1 L1793 542.8 L1794.5 549.9 L1796 557.4 L1797.5 565.4 L1799 573.7 L1800.5 582.3 L1802 590.8 L1803.5 599.1 L1805 607 L1806.5 614.5 L1808 621.6 L1809.5 628.3 L1811 634.8 L1812.5 641 L1814 646.9 L1815.5 652.5 L1817 657.7 L1818.5 662.5 L1820 666.8 L1821.5 670.6 L1823 673.9 L1824.5 676.8 L1826 679.5 L1827.5 681.9 L1829 684.2 L1830.5 686.3 L1832 688.3 L1833.5 690.2 L1835 691.9 L1836.5 693.5 L1838 694.9 L1839.5 696.2 L1841 697.4 L1842.5 698.4 L1844 699.3 L1845.5 700 L1847 700.7 L1848.5 701.3 L1850 701.8 L1851.5 702.3 L1853 702.8 L1854.5 703.2 L1856 703.6 L1857.5 703.9 L1859 704.3 L1860.5 704.6 L1862 705 L1863.5 705.3 L1865 705.7 L1866.5 706 L1868 706.4 L1869.5 706.7 L1871 707.1 L1872.5 707.4 L1874 707.8 L1875.5 708.2 L1877 708.5 L1878.5 708.9 L1880 709.2 L1881.5 709.5 L1883 709.9 L1884.5 710.2 L1886 710.6 L1887.5 710.9 L1889 711.2 L1890.5 711.6 L1892 711.9 L1893.5 712.2 L1895 712.5 L1896.5 712.8 L1898 713.2 L1899.5 713.5 L1901 713.8 L1902.5 714.1 L1904 714.4 L1905.5 714.7 L1907 715 L1908.5 715.3 L1910 715.6 L1911.5 715.9 L1913 716.2 L1914.5 716.5 L1916 716.8 L1917.5 717.1 L1919 717.3 L1920.5 717.6 L1922 717.9 L1923.5 718.2 L1925 718.4 L1926.5 718.7 L1928 719 L1929.5 719.2 L1931 719.5 L1932.5 719.7 L1934 720 L1935.5 720.2 L1937 720.5 L1938.5 720.7 L1940 721 L1941.5 721.2 L1943 721.5 L1944.5 721.7 L1946 722 L1947.5 722.2 L1949 722.4 L1950.5 722.7 L1952 722.9 L1953.5 723.1 L1955 723.3 L1956.5 723.6 L1958 723.8 L1959.5 724 L1961 724.2 L1962.5 724.4 L1964 724.7 L1965.5 724.9 L1967 725.1 L1968.5 725.3 L1970 725.5 L1971.5 725.7 L1973 725.9 L1974.5 726.1 L1976 726.3 L1977.5 726.5 L1979 726.7 L1980.5 726.9 L1982 727 L1983.5 727.2 L1985 727.4 L1986.5 727.6 L1988 727.7 L1989.5 727.8" stroke="#e83478" stroke-width="2.6"/>
<path d="M1526 704 L1527.5 704 L1529 704 L1530.5 704 L1532 704 L1533.5 704 L1535 704 L1536.5 704 L1538 704 L1539.5 704 L1541 704 L1542.5 704 L1544 704 L1545.5 704 L1547 704 L1548.5 704 L1550 703.9 L1551.5 703.8 L1553 703.6 L1554.5 703.3 L1556 702.8 L1557.5 702.1 L1559 701.3 L1560.5 700.4 L1562 699.4 L1563.5 698.3 L1565 697.2 L1566.5 696.1 L1568 694.9 L1569.5 693.8 L1571 692.5 L1572.5 691.3 L1574 689.9 L1575.5 688.5 L1577 687 L1578.5 685.6 L1580 684 L1581.5 682.5 L1583 680.9 L1584.5 679.3 L1586 677.6 L1587.5 675.9 L1589 674.1 L1590.5 672.3 L1592 670.5 L1593.5 668.6 L1595 666.7 L1596.5 664.8 L1598 662.9 L1599.5 661 L1601 659 L1602.5 657.1 L1604 655.1 L1605.5 653.2 L1607 651.1 L1608.5 649.1 L1610 646.9 L1611.5 644.8 L1613 642.5 L1614.5 640.2 L1616 637.8 L1617.5 635.3 L1619 632.6 L1620.5 629.9 L1622 627 L1623.5 624 L1625 620.8 L1626.5 617.3 L1628 613.5 L1629.5 609.3 L1631 604.7 L1632.5 599.8 L1634 594.5 L1635.5 589 L1637 583.3 L1638.5 577.5 L1640 571.8 L1641.5 566.1 L1643 560.5 L1644.5 555.1 L1646 549.9 L1647.5 544.7 L1649 539.6 L1650.5 534.7 L1652 529.8 L1653.5 525 L1655 520.5 L1656.5 516.1 L1658 512 L1659.5 508 L1661 504.2 L1662.5 500.6 L1664 497.1 L1665.5 493.8 L1667 490.7 L1668.5 488.1 L1670 485.8 L1671.5 483.9 L1673 482.5 L1674.5 481.4 L1676 480.5 L1677.5 479.8 L1679 479.3 L1680.5 478.7 L1682 478.3 L1683.5 477.8 L1685 477.3 L1686.5 476.9 L1688 476.4 L1689.5 476 L1691 475.6 L1692.5 475.2 L1694 474.7 L1695.5 474.2 L1697 473.5 L1698.5 472.6 L1700 471.4 L1701.5 469.7 L1703 467.6 L1704.5 465.1 L1706 462.1 L1707.5 459 L1709 455.6 L1710.5 452.2 L1712 448.8 L1713.5 445.3 L1715 441.7 L1716.5 438 L1718 434.2 L1719.5 430.1 L1721 425.8 L1722.5 421.3 L1724 416.5 L1725.5 411.4 L1727 406.2 L1728.5 401 L1730 396 L1731.5 391.2 L1733 386.7 L1734.5 382.6 L1736 378.8 L1737.5 375.2 L1739 372 L1740.5 369.1 L1742 366.5 L1743.5 364.3 L1745 362.4 L1746.5 360.9 L1748 359.9 L1749.5 359.4 L1751 359.4 L1752.5 360 L1754 361 L1755.5 362.5 L1757 364.4 L1758.5 366.6 L1760 369.3 L1761.5 372.4 L1763 375.9 L1764.5 379.8 L1766 383.8 L1767.5 387.9 L1769 392 L1770.5 396 L1772 399.9 L1773.5 403.8 L1775 407.7 L1776.5 411.8 L1778 416.3 L1779.5 421.1 L1781 426.5 L1782.5 432.4 L1784 439.1 L1785.5 446.3 L1787 454 L1788.5 462.1 L1790 470.5 L1791.5 479.2 L1793 488.2 L1794.5 497.4 L1796 506.8 L1797.5 516.2 L1799 525.5 L1800.5 534.6 L1802 543.4 L1803.5 551.9 L1805 560.3 L1806.5 568.3 L1808 576.2 L1809.5 583.9 L1811 591.2 L1812.5 598.3 L1814 604.9 L1815.5 611.1 L1817 617 L1818.5 622.4 L1820 627.5 L1821.5 632.2 L1823 636.7 L1824.5 640.9 L1826 644.8 L1827.5 648.5 L1829 652 L1830.5 655.3 L1832 658.5 L1833.5 661.5 L1835 664.3 L1836.5 667 L1838 669.4 L1839.5 671.5 L1841 673.4 L1842.5 675.1 L1844 676.6 L1845.5 677.9 L1847 679.1 L1848.5 680.3 L1850 681.3 L1851.5 682.3 L1853 683.3 L1854.5 684.1 L1856 685 L1857.5 685.8 L1859 686.5 L1860.5 687.3 L1862 688 L1863.5 688.7 L1865 689.3 L1866.5 690 L1868 690.6 L1869.5 691.2 L1871 691.8 L1872.5 692.4 L1874 692.9 L1875.5 693.5 L1877 694 L1878.5 694.5 L1880 695 L1881.5 695.4 L1883 695.9 L1884.5 696.4 L1886 696.8 L1887.5 697.2 L1889 697.7 L1890.5 698.1 L1892 698.5 L1893.5 699 L1895 699.4 L1896.5 699.8 L1898 700.2 L1899.5 700.7 L1901 701.1 L1902.5 701.5 L1904 701.9 L1905.5 702.3 L1907 702.7 L1908.5 703.1 L1910 703.5 L1911.5 703.9 L1913 704.3 L1914.5 704.7 L1916 705.1 L1917.5 705.4 L1919 705.8 L1920.5 706.1 L1922 706.5 L1923.5 706.8 L1925 707.2 L1926.5 707.5 L1928 707.8 L1929.5 708.1 L1931 708.4 L1932.5 708.7 L1934 709 L1935.5 709.3 L1937 709.5 L1938.5 709.8 L1940 710.1 L1941.5 710.4 L1943 710.6 L1944.5 710.9 L1946 711.1 L1947.5 711.4 L1949 711.6 L1950.5 711.9 L1952 712.1 L1953.5 712.4 L1955 712.6 L1956.5 712.9 L1958 713.1 L1959.5 713.3 L1961 713.6 L1962.5 713.8 L1964 714 L1965.5 714.2 L1967 714.4 L1968.5 714.6 L1970 714.8 L1971.5 715 L1973 715.2 L1974.5 715.4 L1976 715.6 L1977.5 715.8 L1979 715.9 L1980.5 716.1 L1982 716.2 L1983.5 716.4 L1985 716.5 L1986.5 716.7 L1988 716.8 L1989.5 716.9" stroke="#3aa048" stroke-width="2.0"/>
<path d="M1526 712.3 L1527.5 712.5 L1529 712.7 L1530.5 712.9 L1532 713.1 L1533.5 713.3 L1535 713.4 L1536.5 713.5 L1538 713.6 L1539.5 713.6 L1541 713.6 L1542.5 713.5 L1544 713.3 L1545.5 713 L1547 712.4 L1548.5 711.6 L1550 710.6 L1551.5 709.5 L1553 708.2 L1554.5 706.8 L1556 705.4 L1557.5 703.9 L1559 702.4 L1560.5 700.9 L1562 699.2 L1563.5 697.5 L1565 695.7 L1566.5 693.9 L1568 691.9 L1569.5 689.9 L1571 687.9 L1572.5 685.7 L1574 683.5 L1575.5 681.2 L1577 678.9 L1578.5 676.4 L1580 673.9 L1581.5 671.4 L1583 668.7 L1584.5 666.1 L1586 663.3 L1587.5 660.5 L1589 657.5 L1590.5 654.4 L1592 651.2 L1593.5 647.8 L1595 644.3 L1596.5 640.6 L1598 636.7 L1599.5 632.8 L1601 628.8 L1602.5 624.7 L1604 620.5 L1605.5 616.4 L1607 612.2 L1608.5 607.9 L1610 603.6 L1611.5 599.3 L1613 595 L1614.5 590.6 L1616 586.1 L1617.5 581.7 L1619 577.2 L1620.5 572.6 L1622 568.1 L1623.5 563.5 L1625 558.9 L1626.5 554.3 L1628 549.6 L1629.5 544.8 L1631 540 L1632.5 535.2 L1634 530.3 L1635.5 525.4 L1637 520.4 L1638.5 515.5 L1640 510.6 L1641.5 505.8 L1643 501 L1644.5 496.3 L1646 491.6 L1647.5 486.9 L1649 482.2 L1650.5 477.6 L1652 473.1 L1653.5 468.8 L1655 464.8 L1656.5 461 L1658 457.5 L1659.5 454.4 L1661 451.6 L1662.5 449 L1664 446.5 L1665.5 444.3 L1667 442.3 L1668.5 440.4 L1670 438.7 L1671.5 437.2 L1673 435.9 L1674.5 434.7 L1676 433.7 L1677.5 432.7 L1679 431.9 L1680.5 431.1 L1682 430.3 L1683.5 429.6 L1685 428.9 L1686.5 428.3 L1688 427.7 L1689.5 427.1 L1691 426.6 L1692.5 426.1 L1694 425.5 L1695.5 424.9 L1697 424.2 L1698.5 423.4 L1700 422.3 L1701.5 421 L1703 419.5 L1704.5 417.7 L1706 415.7 L1707.5 413.6 L1709 411.4 L1710.5 409.1 L1712 406.7 L1713.5 404.3 L1715 401.7 L1716.5 399.1 L1718 396.4 L1719.5 393.8 L1721 391.1 L1722.5 388.5 L1724 385.9 L1725.5 383.5 L1727 381.1 L1728.5 378.8 L1730 376.5 L1731.5 374.2 L1733 371.9 L1734.5 369.7 L1736 367.6 L1737.5 365.6 L1739 363.7 L1740.5 362.1 L1742 360.6 L1743.5 359.4 L1745 358.3 L1746.5 357.4 L1748 356.7 L1749.5 356 L1751 355.4 L1752.5 355 L1754 354.7 L1755.5 354.6 L1757 354.7 L1758.5 355.2 L1760 356 L1761.5 357.2 L1763 358.7 L1764.5 360.7 L1766 363 L1767.5 365.7 L1769 369 L1770.5 372.6 L1772 376.6 L1773.5 380.9 L1775 385.2 L1776.5 389.7 L1778 394.3 L1779.5 399 L1781 404 L1782.5 409.2 L1784 414.8 L1785.5 420.8 L1787 427.3 L1788.5 434.2 L1790 441.4 L1791.5 448.6 L1793 455.6 L1794.5 462.3 L1796 468.8 L1797.5 475.2 L1799 481.6 L1800.5 488.2 L1802 495.1 L1803.5 502.3 L1805 509.8 L1806.5 517.6 L1808 525.6 L1809.5 533.6 L1811 541.6 L1812.5 549.6 L1814 557.5 L1815.5 565.3 L1817 573.1 L1818.5 580.9 L1820 588.5 L1821.5 596 L1823 603.3 L1824.5 610.5 L1826 617.3 L1827.5 623.9 L1829 630.2 L1830.5 636.2 L1832 641.8 L1833.5 647 L1835 651.8 L1836.5 656.3 L1838 660.4 L1839.5 664 L1841 667.2 L1842.5 670 L1844 672.4 L1845.5 674.5 L1847 676.3 L1848.5 678 L1850 679.5 L1851.5 681 L1853 682.3 L1854.5 683.5 L1856 684.6 L1857.5 685.7 L1859 686.7 L1860.5 687.7 L1862 688.6 L1863.5 689.4 L1865 690.2 L1866.5 690.9 L1868 691.6 L1869.5 692.2 L1871 692.8 L1872.5 693.4 L1874 694 L1875.5 694.5 L1877 695 L1878.5 695.5 L1880 696 L1881.5 696.5 L1883 696.9 L1884.5 697.4 L1886 697.8 L1887.5 698.3 L1889 698.7 L1890.5 699.1 L1892 699.5 L1893.5 700 L1895 700.4 L1896.5 700.8 L1898 701.2 L1899.5 701.7 L1901 702.1 L1902.5 702.5 L1904 702.9 L1905.5 703.3 L1907 703.7 L1908.5 704.1 L1910 704.5 L1911.5 704.9 L1913 705.3 L1914.5 705.7 L1916 706.1 L1917.5 706.4 L1919 706.8 L1920.5 707.1 L1922 707.5 L1923.5 707.8 L1925 708.2 L1926.5 708.5 L1928 708.8 L1929.5 709.1 L1931 709.4 L1932.5 709.7 L1934 710 L1935.5 710.3 L1937 710.5 L1938.5 710.8 L1940 711.1 L1941.5 711.4 L1943 711.6 L1944.5 711.9 L1946 712.1 L1947.5 712.4 L1949 712.6 L1950.5 712.9 L1952 713.1 L1953.5 713.4 L1955 713.6 L1956.5 713.9 L1958 714.1 L1959.5 714.3 L1961 714.6 L1962.5 714.8 L1964 715 L1965.5 715.2 L1967 715.4 L1968.5 715.6 L1970 715.8 L1971.5 716 L1973 716.2 L1974.5 716.4 L1976 716.6 L1977.5 716.8 L1979 716.9 L1980.5 717.1 L1982 717.2 L1983.5 717.4 L1985 717.5 L1986.5 717.7 L1988 717.8 L1989.5 717.9" stroke="#8e44f0" stroke-width="2.0"/>
<path d="M1526 702.1 L1527.5 702.2 L1529 702.3 L1530.5 702.4 L1532 702.5 L1533.5 702.6 L1535 702.7 L1536.5 702.8 L1538 702.8 L1539.5 702.9 L1541 702.9 L1542.5 702.9 L1544 703 L1545.5 703 L1547 703 L1548.5 703 L1550 702.9 L1551.5 702.7 L1553 702.5 L1554.5 702.1 L1556 701.6 L1557.5 701 L1559 700.2 L1560.5 699.4 L1562 698.5 L1563.5 697.6 L1565 696.6 L1566.5 695.5 L1568 694.3 L1569.5 693 L1571 691.7 L1572.5 690.2 L1574 688.6 L1575.5 687 L1577 685.3 L1578.5 683.7 L1580 682 L1581.5 680.2 L1583 678.5 L1584.5 676.6 L1586 674.8 L1587.5 672.9 L1589 671.1 L1590.5 669.2 L1592 667.3 L1593.5 665.4 L1595 663.6 L1596.5 661.8 L1598 659.9 L1599.5 658 L1601 656 L1602.5 653.9 L1604 651.7 L1605.5 649.4 L1607 646.9 L1608.5 644.3 L1610 641.6 L1611.5 638.7 L1613 635.7 L1614.5 632.6 L1616 629.3 L1617.5 625.9 L1619 622.3 L1620.5 618.6 L1622 614.6 L1623.5 610.3 L1625 605.7 L1626.5 600.9 L1628 595.9 L1629.5 590.6 L1631 585.3 L1632.5 579.8 L1634 574.4 L1635.5 568.9 L1637 563.6 L1638.5 558.3 L1640 553.2 L1641.5 548.2 L1643 543.2 L1644.5 538.3 L1646 533.4 L1647.5 528.5 L1649 523.6 L1650.5 518.8 L1652 514.2 L1653.5 509.7 L1655 505.4 L1656.5 501.3 L1658 497.4 L1659.5 493.8 L1661 490.5 L1662.5 487.3 L1664 484.4 L1665.5 481.6 L1667 479 L1668.5 476.5 L1670 474.3 L1671.5 472.2 L1673 470.3 L1674.5 468.6 L1676 467.1 L1677.5 465.8 L1679 464.6 L1680.5 463.5 L1682 462.5 L1683.5 461.4 L1685 460.3 L1686.5 459.1 L1688 457.7 L1689.5 456.3 L1691 454.7 L1692.5 453.1 L1694 451.3 L1695.5 449.3 L1697 447.3 L1698.5 445 L1700 442.6 L1701.5 439.8 L1703 436.8 L1704.5 433.5 L1706 429.9 L1707.5 426.2 L1709 422.3 L1710.5 418.3 L1712 414.3 L1713.5 410.2 L1715 406.1 L1716.5 402.1 L1718 398 L1719.5 394 L1721 390.1 L1722.5 386.3 L1724 382.5 L1725.5 378.8 L1727 375.1 L1728.5 371.6 L1730 368.2 L1731.5 365 L1733 362.2 L1734.5 359.8 L1736 357.6 L1737.5 355.9 L1739 354.3 L1740.5 353.1 L1742 352 L1743.5 351.3 L1745 351 L1746.5 351 L1748 351.6 L1749.5 352.5 L1751 354 L1752.5 356.1 L1754 358.8 L1755.5 362.2 L1757 366.4 L1758.5 371.2 L1760 376.4 L1761.5 381.9 L1763 387.4 L1764.5 392.8 L1766 398.3 L1767.5 403.7 L1769 409.1 L1770.5 414.5 L1772 419.8 L1773.5 425 L1775 430.1 L1776.5 435.2 L1778 440.3 L1779.5 445.5 L1781 451 L1782.5 456.8 L1784 462.9 L1785.5 469.4 L1787 476.2 L1788.5 483.4 L1790 490.8 L1791.5 498.4 L1793 506.3 L1794.5 514.4 L1796 522.7 L1797.5 531.3 L1799 539.9 L1800.5 548.4 L1802 556.7 L1803.5 564.8 L1805 572.7 L1806.5 580.2 L1808 587.5 L1809.5 594.4 L1811 600.9 L1812.5 607 L1814 612.5 L1815.5 617.5 L1817 622 L1818.5 626 L1820 629.8 L1821.5 633.2 L1823 636.5 L1824.5 639.5 L1826 642.4 L1827.5 645.1 L1829 647.8 L1830.5 650.4 L1832 653 L1833.5 655.5 L1835 658 L1836.5 660.4 L1838 662.8 L1839.5 665 L1841 667.1 L1842.5 669 L1844 670.7 L1845.5 672.2 L1847 673.5 L1848.5 674.7 L1850 675.7 L1851.5 676.7 L1853 677.6 L1854.5 678.4 L1856 679.2 L1857.5 679.9 L1859 680.6 L1860.5 681.3 L1862 682 L1863.5 682.7 L1865 683.3 L1866.5 684 L1868 684.7 L1869.5 685.4 L1871 686 L1872.5 686.7 L1874 687.4 L1875.5 688 L1877 688.7 L1878.5 689.3 L1880 689.9 L1881.5 690.5 L1883 691.1 L1884.5 691.7 L1886 692.3 L1887.5 692.8 L1889 693.4 L1890.5 693.9 L1892 694.4 L1893.5 694.9 L1895 695.5 L1896.5 695.9 L1898 696.4 L1899.5 696.9 L1901 697.4 L1902.5 697.9 L1904 698.3 L1905.5 698.8 L1907 699.3 L1908.5 699.7 L1910 700.2 L1911.5 700.6 L1913 701 L1914.5 701.5 L1916 701.9 L1917.5 702.3 L1919 702.7 L1920.5 703.1 L1922 703.4 L1923.5 703.8 L1925 704.1 L1926.5 704.5 L1928 704.8 L1929.5 705.1 L1931 705.4 L1932.5 705.7 L1934 706 L1935.5 706.3 L1937 706.5 L1938.5 706.8 L1940 707 L1941.5 707.3 L1943 707.5 L1944.5 707.8 L1946 708 L1947.5 708.3 L1949 708.5 L1950.5 708.8 L1952 709 L1953.5 709.2 L1955 709.4 L1956.5 709.7 L1958 709.9 L1959.5 710.1 L1961 710.3 L1962.5 710.5 L1964 710.7 L1965.5 710.9 L1967 711.1 L1968.5 711.3 L1970 711.4 L1971.5 711.6 L1973 711.7 L1974.5 711.9 L1976 712 L1977.5 712.2 L1979 712.3 L1980.5 712.4 L1982 712.5 L1983.5 712.6 L1985 712.7 L1986.5 712.8 L1988 712.9 L1989.5 712.9" stroke="#a8783c" stroke-width="2.2"/>
<path d="M1526 699.1 L1527.5 699.2 L1529 699.3 L1530.5 699.4 L1532 699.5 L1533.5 699.6 L1535 699.7 L1536.5 699.8 L1538 699.9 L1539.5 699.9 L1541 699.9 L1542.5 700 L1544 700 L1545.5 700 L1547 700 L1548.5 699.9 L1550 699.8 L1551.5 699.6 L1553 699.2 L1554.5 698.7 L1556 698.1 L1557.5 697.4 L1559 696.5 L1560.5 695.6 L1562 694.6 L1563.5 693.6 L1565 692.5 L1566.5 691.3 L1568 690 L1569.5 688.6 L1571 687.1 L1572.5 685.6 L1574 684 L1575.5 682.3 L1577 680.6 L1578.5 678.9 L1580 677.2 L1581.5 675.4 L1583 673.6 L1584.5 671.8 L1586 669.9 L1587.5 668 L1589 666.1 L1590.5 664.3 L1592 662.5 L1593.5 660.7 L1595 658.9 L1596.5 657.1 L1598 655.2 L1599.5 653.2 L1601 651.2 L1602.5 649 L1604 646.7 L1605.5 644.2 L1607 641.6 L1608.5 638.9 L1610 636.1 L1611.5 633.1 L1613 630 L1614.5 626.8 L1616 623.4 L1617.5 619.8 L1619 616 L1620.5 611.9 L1622 607.6 L1623.5 603 L1625 598.2 L1626.5 593.1 L1628 587.9 L1629.5 582.6 L1631 577.2 L1632.5 571.8 L1634 566.5 L1635.5 561.2 L1637 555.9 L1638.5 550.8 L1640 545.7 L1641.5 540.6 L1643 535.4 L1644.5 530.3 L1646 525.1 L1647.5 520 L1649 515 L1650.5 510.1 L1652 505.3 L1653.5 500.8 L1655 496.6 L1656.5 492.6 L1658 488.8 L1659.5 485.4 L1661 482.1 L1662.5 479.1 L1664 476.2 L1665.5 473.5 L1667 471 L1668.5 468.7 L1670 466.6 L1671.5 464.8 L1673 463.2 L1674.5 461.7 L1676 460.5 L1677.5 459.4 L1679 458.4 L1680.5 457.4 L1682 456.4 L1683.5 455.3 L1685 454.1 L1686.5 452.8 L1688 451.4 L1689.5 449.9 L1691 448.2 L1692.5 446.4 L1694 444.5 L1695.5 442.4 L1697 440 L1698.5 437.4 L1700 434.4 L1701.5 431 L1703 427.3 L1704.5 423.3 L1706 419.3 L1707.5 415.1 L1709 411 L1710.5 406.8 L1712 402.6 L1713.5 398.5 L1715 394.4 L1716.5 390.3 L1718 386.3 L1719.5 382.3 L1721 378.3 L1722.5 374.4 L1724 370.5 L1725.5 366.6 L1727 362.9 L1728.5 359.3 L1730 356.1 L1731.5 353.1 L1733 350.5 L1734.5 348.2 L1736 346.1 L1737.5 344.4 L1739 343 L1740.5 341.9 L1742 341.4 L1743.5 341.3 L1745 341.9 L1746.5 343 L1748 344.6 L1749.5 346.7 L1751 349.3 L1752.5 352.6 L1754 356.5 L1755.5 361 L1757 366 L1758.5 371.5 L1760 377 L1761.5 382.6 L1763 388.2 L1764.5 393.8 L1766 399.3 L1767.5 404.9 L1769 410.4 L1770.5 415.8 L1772 421.2 L1773.5 426.4 L1775 431.5 L1776.5 436.6 L1778 441.8 L1779.5 447.2 L1781 452.8 L1782.5 458.9 L1784 465.2 L1785.5 472 L1787 479 L1788.5 486.3 L1790 493.9 L1791.5 501.6 L1793 509.7 L1794.5 517.9 L1796 526.3 L1797.5 534.9 L1799 543.4 L1800.5 551.8 L1802 560 L1803.5 567.9 L1805 575.7 L1806.5 583.1 L1808 590.2 L1809.5 596.9 L1811 603.1 L1812.5 608.7 L1814 613.7 L1815.5 618.1 L1817 622 L1818.5 625.5 L1820 628.7 L1821.5 631.7 L1823 634.4 L1824.5 637 L1826 639.5 L1827.5 642 L1829 644.3 L1830.5 646.7 L1832 649.2 L1833.5 651.6 L1835 654.1 L1836.5 656.6 L1838 659 L1839.5 661.4 L1841 663.6 L1842.5 665.7 L1844 667.5 L1845.5 669.1 L1847 670.5 L1848.5 671.7 L1850 672.7 L1851.5 673.7 L1853 674.6 L1854.5 675.4 L1856 676.2 L1857.5 676.9 L1859 677.6 L1860.5 678.3 L1862 679 L1863.5 679.7 L1865 680.3 L1866.5 681 L1868 681.7 L1869.5 682.4 L1871 683 L1872.5 683.7 L1874 684.3 L1875.5 685 L1877 685.6 L1878.5 686.2 L1880 686.9 L1881.5 687.5 L1883 688.1 L1884.5 688.6 L1886 689.2 L1887.5 689.8 L1889 690.3 L1890.5 690.9 L1892 691.4 L1893.5 692 L1895 692.5 L1896.5 693 L1898 693.5 L1899.5 694 L1901 694.6 L1902.5 695.1 L1904 695.6 L1905.5 696.1 L1907 696.6 L1908.5 697.1 L1910 697.6 L1911.5 698.1 L1913 698.6 L1914.5 699 L1916 699.5 L1917.5 700 L1919 700.4 L1920.5 700.8 L1922 701.2 L1923.5 701.6 L1925 702 L1926.5 702.4 L1928 702.7 L1929.5 703.1 L1931 703.4 L1932.5 703.7 L1934 704 L1935.5 704.3 L1937 704.5 L1938.5 704.8 L1940 705.1 L1941.5 705.3 L1943 705.6 L1944.5 705.8 L1946 706.1 L1947.5 706.4 L1949 706.6 L1950.5 706.8 L1952 707.1 L1953.5 707.3 L1955 707.6 L1956.5 707.8 L1958 708 L1959.5 708.2 L1961 708.4 L1962.5 708.6 L1964 708.8 L1965.5 709 L1967 709.2 L1968.5 709.4 L1970 709.6 L1971.5 709.7 L1973 709.9 L1974.5 710 L1976 710.2 L1977.5 710.3 L1979 710.4 L1980.5 710.5 L1982 710.6 L1983.5 710.7 L1985 710.8 L1986.5 710.9 L1988 710.9 L1989.5 710.9" stroke="#341626" stroke-width="2.6"/>
</g>
<rect x="1526" y="311.3" width="464" height="417.7" fill="none" stroke="#303030" stroke-width="2.4"/>
<path d="M1744.5 668 L1844.9 515" stroke="#0a0a0a" stroke-width="2.6" fill="none"/>
<path d="M1850.5 506.5 L1847.9 525.1 L1844.7 515.3 L1834.5 516.3 Z" fill="#0a0a0a"/>
<text x="1519" y="329.1" font-family="'Liberation Sans', Arial, sans-serif" font-size="27.5" font-weight="bold" text-anchor="end" fill="#222" textLength="45.5" lengthAdjust="spacingAndGlyphs">0.20</text>
<text x="1519" y="411.1" font-family="'Liberation Sans', Arial, sans-serif" font-size="27.5" font-weight="bold" text-anchor="end" fill="#222" textLength="45.5" lengthAdjust="spacingAndGlyphs">0.16</text>
<text x="1519" y="491.6" font-family="'Liberation Sans', Arial, sans-serif" font-size="27.5" font-weight="bold" text-anchor="end" fill="#222" textLength="45.5" lengthAdjust="spacingAndGlyphs">0.12</text>
<text x="1519" y="572.6" font-family="'Liberation Sans', Arial, sans-serif" font-size="27.5" font-weight="bold" text-anchor="end" fill="#222" textLength="45.5" lengthAdjust="spacingAndGlyphs">0.08</text>
<text x="1519" y="654" font-family="'Liberation Sans', Arial, sans-serif" font-size="27.5" font-weight="bold" text-anchor="end" fill="#222" textLength="45.5" lengthAdjust="spacingAndGlyphs">0.04</text>
<text x="1519" y="735.1" font-family="'Liberation Sans', Arial, sans-serif" font-size="27.5" font-weight="bold" text-anchor="end" fill="#222" textLength="45.5" lengthAdjust="spacingAndGlyphs">0.00</text>
<text x="1536.6" y="758.8" font-family="'Liberation Sans', Arial, sans-serif" font-size="27" font-weight="bold" text-anchor="middle" fill="#222" textLength="38" lengthAdjust="spacingAndGlyphs">400</text>
<text x="1608.5" y="758.8" font-family="'Liberation Sans', Arial, sans-serif" font-size="27" font-weight="bold" text-anchor="middle" fill="#222" textLength="38" lengthAdjust="spacingAndGlyphs">450</text>
<text x="1681" y="758.8" font-family="'Liberation Sans', Arial, sans-serif" font-size="27" font-weight="bold" text-anchor="middle" fill="#222" textLength="38" lengthAdjust="spacingAndGlyphs">500</text>
<text x="1752.5" y="758.8" font-family="'Liberation Sans', Arial, sans-serif" font-size="27" font-weight="bold" text-anchor="middle" fill="#222" textLength="38" lengthAdjust="spacingAndGlyphs">550</text>
<text x="1825" y="758.8" font-family="'Liberation Sans', Arial, sans-serif" font-size="27" font-weight="bold" text-anchor="middle" fill="#222" textLength="38" lengthAdjust="spacingAndGlyphs">600</text>
<text x="1896.5" y="758.8" font-family="'Liberation Sans', Arial, sans-serif" font-size="27" font-weight="bold" text-anchor="middle" fill="#222" textLength="38" lengthAdjust="spacingAndGlyphs">650</text>
<text x="1968" y="758.8" font-family="'Liberation Sans', Arial, sans-serif" font-size="27" font-weight="bold" text-anchor="middle" fill="#222" textLength="38" lengthAdjust="spacingAndGlyphs">700</text>
<text x="1752.5" y="786" font-family="'Liberation Sans', Arial, sans-serif" font-size="22.5" font-weight="bold" text-anchor="middle" fill="#484848" textLength="155.5" lengthAdjust="spacingAndGlyphs">Wavelength (nm)</text>
<text x="0" y="0" font-family="'Liberation Sans', Arial, sans-serif" font-size="18.5" font-weight="bold" text-anchor="middle" fill="#1a1a1a" textLength="146" lengthAdjust="spacingAndGlyphs" transform="translate(1461.3 552) rotate(-90)" letter-spacing="2">Absorbance</text>
<text x="1827.5" y="490.8" font-family="'Liberation Serif', 'Times New Roman', serif" font-size="27.5" font-weight="bold" text-anchor="start" fill="#0a0a0a" textLength="105.5" lengthAdjust="spacingAndGlyphs" stroke="#0a0a0a" stroke-width="0.7" stroke-linejoin="round">50 minute</text>
<text x="1701.5" y="693.6" font-family="'Liberation Serif', 'Times New Roman', serif" font-size="27.5" font-weight="bold" text-anchor="start" fill="#0a0a0a" textLength="94" lengthAdjust="spacingAndGlyphs" stroke="#0a0a0a" stroke-width="0.7" stroke-linejoin="round">5 minute</text>
</g>
</svg>
</body>
</html>
